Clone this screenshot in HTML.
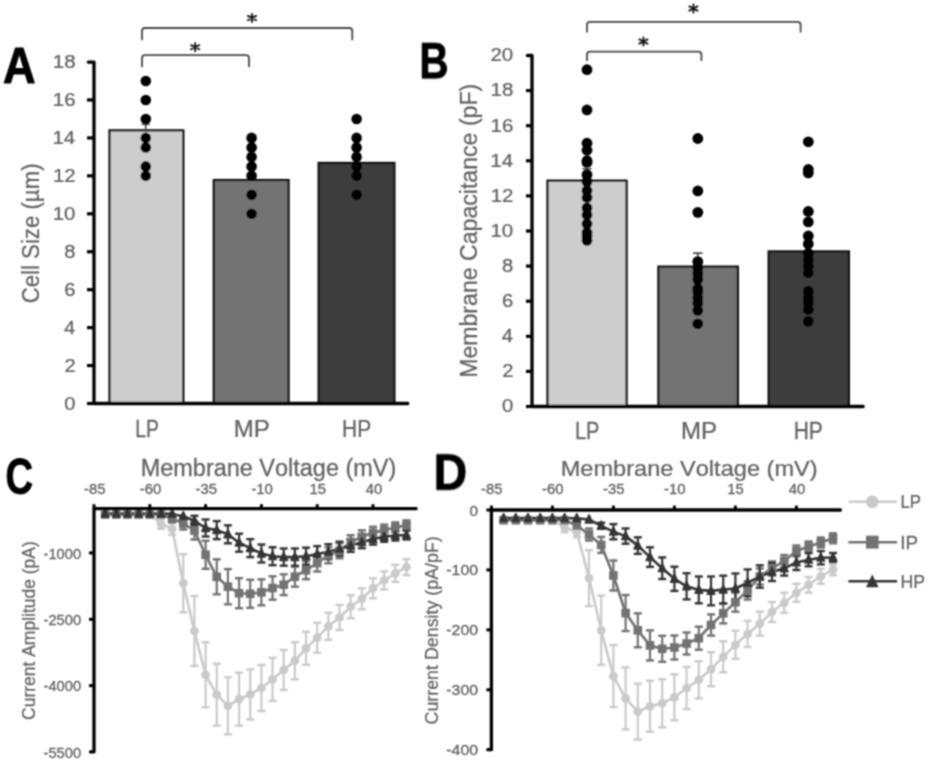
<!DOCTYPE html>
<html><head><meta charset="utf-8"><style>
html,body{margin:0;padding:0;background:#fff;}
svg{display:block;will-change:transform;font-family:"Liberation Sans", sans-serif;font-kerning:none;}
</style></head><body>
<svg width="944" height="762" viewBox="0 0 944 762">
<defs><filter id="bl" x="0" y="0" width="944" height="762" filterUnits="userSpaceOnUse"><feConvolveMatrix order="3" kernelMatrix="1 2 1 2 4 2 1 2 1" divisor="16" edgeMode="duplicate"/></filter></defs>
<rect width="944" height="762" fill="#fff"/>
<g filter="url(#bl)">
<text transform="translate(2.93,83.15) scale(0.9006,1)" font-size="50.15" font-weight="bold" fill="#000" stroke="#000" stroke-width="0.90" stroke-linejoin="round">A</text>
<text transform="translate(419.35,78.15) scale(0.8114,1)" font-size="49.71" font-weight="bold" fill="#000" stroke="#000" stroke-width="0.90" stroke-linejoin="round">B</text>
<text transform="translate(5.48,493.85) scale(0.7562,1)" font-size="50.56" font-weight="bold" fill="#000" stroke="#000" stroke-width="0.90" stroke-linejoin="round">C</text>
<text transform="translate(433.53,489.55) scale(0.9300,1)" font-size="50.15" font-weight="bold" fill="#000" stroke="#000" stroke-width="0.90" stroke-linejoin="round">D</text>
<rect x="109.50" y="130.33" width="73.80" height="273.17" fill="#cdcdcd" stroke="#111" stroke-width="2.2"/>
<rect x="213.80" y="180.03" width="74.80" height="223.47" fill="#737373" stroke="#111" stroke-width="2.2"/>
<rect x="318.60" y="162.96" width="75.80" height="240.54" fill="#3c3c3c" stroke="#111" stroke-width="2.2"/>
<line x1="145.70" y1="130.33" x2="145.70" y2="124.30" stroke="#404040" stroke-width="1.6" stroke-linecap="butt"/>
<line x1="141.70" y1="124.30" x2="149.70" y2="124.30" stroke="#404040" stroke-width="1.6" stroke-linecap="butt"/>
<circle cx="145.80" cy="81.01" r="5.3" fill="#000"/>
<circle cx="145.80" cy="99.98" r="5.3" fill="#000"/>
<circle cx="145.80" cy="118.95" r="5.3" fill="#000"/>
<circle cx="145.80" cy="137.92" r="5.3" fill="#000"/>
<circle cx="145.80" cy="147.41" r="5.3" fill="#000"/>
<circle cx="145.80" cy="166.38" r="5.3" fill="#000"/>
<circle cx="145.80" cy="175.86" r="5.3" fill="#000"/>
<circle cx="251.60" cy="137.92" r="5.3" fill="#000"/>
<circle cx="251.60" cy="147.41" r="5.3" fill="#000"/>
<circle cx="251.60" cy="156.89" r="5.3" fill="#000"/>
<circle cx="251.60" cy="166.38" r="5.3" fill="#000"/>
<circle cx="251.60" cy="175.86" r="5.3" fill="#000"/>
<circle cx="251.60" cy="194.83" r="5.3" fill="#000"/>
<circle cx="251.60" cy="213.80" r="5.3" fill="#000"/>
<circle cx="356.60" cy="118.95" r="5.3" fill="#000"/>
<circle cx="356.60" cy="137.92" r="5.3" fill="#000"/>
<circle cx="356.60" cy="147.41" r="5.3" fill="#000"/>
<circle cx="356.60" cy="156.89" r="5.3" fill="#000"/>
<circle cx="356.60" cy="166.38" r="5.3" fill="#000"/>
<circle cx="356.60" cy="175.86" r="5.3" fill="#000"/>
<circle cx="356.60" cy="194.83" r="5.3" fill="#000"/>
<path d="M88.3,62.04 H94 V403.50 H407.8" fill="none" stroke="#000" stroke-width="3.3" stroke-linejoin="round" stroke-linecap="round"/>
<line x1="87.00" y1="403.50" x2="94.00" y2="403.50" stroke="#000" stroke-width="3.2" stroke-linecap="butt"/>
<line x1="87.00" y1="365.56" x2="94.00" y2="365.56" stroke="#000" stroke-width="3.2" stroke-linecap="butt"/>
<line x1="87.00" y1="327.62" x2="94.00" y2="327.62" stroke="#000" stroke-width="3.2" stroke-linecap="butt"/>
<line x1="87.00" y1="289.68" x2="94.00" y2="289.68" stroke="#000" stroke-width="3.2" stroke-linecap="butt"/>
<line x1="87.00" y1="251.74" x2="94.00" y2="251.74" stroke="#000" stroke-width="3.2" stroke-linecap="butt"/>
<line x1="87.00" y1="213.80" x2="94.00" y2="213.80" stroke="#000" stroke-width="3.2" stroke-linecap="butt"/>
<line x1="87.00" y1="175.86" x2="94.00" y2="175.86" stroke="#000" stroke-width="3.2" stroke-linecap="butt"/>
<line x1="87.00" y1="137.92" x2="94.00" y2="137.92" stroke="#000" stroke-width="3.2" stroke-linecap="butt"/>
<line x1="87.00" y1="99.98" x2="94.00" y2="99.98" stroke="#000" stroke-width="3.2" stroke-linecap="butt"/>
<text transform="translate(64.21,409.82) scale(1.0832,1)" font-size="18.68" font-weight="normal" fill="#626262" stroke="#626262" stroke-width="0.25" stroke-linejoin="round">0</text>
<text transform="translate(64.45,371.88) scale(1.0818,1)" font-size="18.68" font-weight="normal" fill="#626262" stroke="#626262" stroke-width="0.25" stroke-linejoin="round">2</text>
<text transform="translate(64.00,333.94) scale(1.0846,1)" font-size="18.68" font-weight="normal" fill="#626262" stroke="#626262" stroke-width="0.25" stroke-linejoin="round">4</text>
<text transform="translate(64.32,296.00) scale(1.0822,1)" font-size="18.68" font-weight="normal" fill="#626262" stroke="#626262" stroke-width="0.25" stroke-linejoin="round">6</text>
<text transform="translate(64.31,258.06) scale(1.0827,1)" font-size="18.68" font-weight="normal" fill="#626262" stroke="#626262" stroke-width="0.25" stroke-linejoin="round">8</text>
<text transform="translate(52.67,220.13) scale(1.0978,1)" font-size="18.68" font-weight="normal" fill="#626262" stroke="#626262" stroke-width="0.25" stroke-linejoin="round">10</text>
<text transform="translate(52.90,182.19) scale(1.0976,1)" font-size="18.68" font-weight="normal" fill="#626262" stroke="#626262" stroke-width="0.25" stroke-linejoin="round">12</text>
<text transform="translate(52.47,144.25) scale(1.0979,1)" font-size="18.68" font-weight="normal" fill="#626262" stroke="#626262" stroke-width="0.25" stroke-linejoin="round">14</text>
<text transform="translate(52.77,106.31) scale(1.0977,1)" font-size="18.68" font-weight="normal" fill="#626262" stroke="#626262" stroke-width="0.25" stroke-linejoin="round">16</text>
<text transform="translate(52.76,68.37) scale(1.0977,1)" font-size="18.68" font-weight="normal" fill="#626262" stroke="#626262" stroke-width="0.25" stroke-linejoin="round">18</text>
<text transform="translate(135.19,436.77) scale(0.8290,1)" font-size="23.33" font-weight="normal" fill="#626262" stroke="#626262" stroke-width="0.25" stroke-linejoin="round">LP</text>
<text transform="translate(233.70,436.77) scale(1.0314,1)" font-size="23.33" font-weight="normal" fill="#626262" stroke="#626262" stroke-width="0.25" stroke-linejoin="round">MP</text>
<text transform="translate(342.06,436.77) scale(0.8970,1)" font-size="23.33" font-weight="normal" fill="#626262" stroke="#626262" stroke-width="0.25" stroke-linejoin="round">HP</text>
<text transform="translate(38.67,303.30) rotate(-90) scale(0.9175,1)" font-size="24.20" fill="#626262" stroke="#626262" stroke-width="0.25" stroke-linejoin="round">Cell Size (µm)</text>
<path d="M142,39.4 V31 Q142,28 145,28 H349.3 Q352.3,28 352.3,31 V39.4" fill="none" stroke="#484848" stroke-width="1.8" stroke-linecap="round"/>
<path d="M142,66.4 V58.2 Q142,55.2 145,55.2 H246 Q249,55.2 249,58.2 V66.4" fill="none" stroke="#484848" stroke-width="1.8" stroke-linecap="round"/>
<path d="M252,13.9 V22.1 M247.9,15.9 L256.1,20.1 M247.9,20.1 L256.1,15.9" stroke="#111" stroke-width="1.8" stroke-linecap="round" fill="none"/>
<path d="M195.2,43.1 V51.300000000000004 M191.1,45.1 L199.29999999999998,49.300000000000004 M191.1,49.300000000000004 L199.29999999999998,45.1" stroke="#111" stroke-width="1.8" stroke-linecap="round" fill="none"/>
<rect x="547.50" y="180.70" width="79.10" height="225.80" fill="#cdcdcd" stroke="#111" stroke-width="2.2"/>
<rect x="658.40" y="266.60" width="79.50" height="139.90" fill="#737373" stroke="#111" stroke-width="2.2"/>
<rect x="768.70" y="251.40" width="80.20" height="155.10" fill="#3c3c3c" stroke="#111" stroke-width="2.2"/>
<line x1="587.00" y1="180.70" x2="587.00" y2="168.80" stroke="#404040" stroke-width="1.6" stroke-linecap="butt"/>
<line x1="582.50" y1="168.80" x2="591.50" y2="168.80" stroke="#404040" stroke-width="1.6" stroke-linecap="butt"/>
<line x1="697.80" y1="266.60" x2="697.80" y2="253.10" stroke="#404040" stroke-width="1.6" stroke-linecap="butt"/>
<line x1="693.00" y1="253.10" x2="702.60" y2="253.10" stroke="#404040" stroke-width="1.6" stroke-linecap="butt"/>
<line x1="808.30" y1="251.40" x2="808.30" y2="244.00" stroke="#404040" stroke-width="1.6" stroke-linecap="butt"/>
<line x1="803.50" y1="244.00" x2="813.00" y2="244.00" stroke="#404040" stroke-width="1.6" stroke-linecap="butt"/>
<circle cx="587.00" cy="69.70" r="5.4" fill="#000"/>
<circle cx="587.00" cy="109.95" r="5.4" fill="#000"/>
<circle cx="587.00" cy="143.20" r="5.4" fill="#000"/>
<circle cx="587.00" cy="150.20" r="5.4" fill="#000"/>
<circle cx="587.00" cy="160.70" r="5.4" fill="#000"/>
<circle cx="587.00" cy="162.45" r="5.4" fill="#000"/>
<circle cx="587.00" cy="174.70" r="5.4" fill="#000"/>
<circle cx="587.00" cy="181.70" r="5.4" fill="#000"/>
<circle cx="587.00" cy="190.45" r="5.4" fill="#000"/>
<circle cx="587.00" cy="197.45" r="5.4" fill="#000"/>
<circle cx="587.00" cy="207.95" r="5.4" fill="#000"/>
<circle cx="587.00" cy="214.95" r="5.4" fill="#000"/>
<circle cx="587.00" cy="223.70" r="5.4" fill="#000"/>
<circle cx="587.00" cy="232.45" r="5.4" fill="#000"/>
<circle cx="587.00" cy="235.95" r="5.4" fill="#000"/>
<circle cx="587.00" cy="240.32" r="5.4" fill="#000"/>
<circle cx="697.80" cy="138.48" r="5.4" fill="#000"/>
<circle cx="697.80" cy="190.97" r="5.4" fill="#000"/>
<circle cx="697.80" cy="212.32" r="5.4" fill="#000"/>
<circle cx="697.80" cy="261.67" r="5.4" fill="#000"/>
<circle cx="697.80" cy="268.15" r="5.4" fill="#000"/>
<circle cx="697.80" cy="273.57" r="5.4" fill="#000"/>
<circle cx="697.80" cy="279.35" r="5.4" fill="#000"/>
<circle cx="697.80" cy="288.62" r="5.4" fill="#000"/>
<circle cx="697.80" cy="291.95" r="5.4" fill="#000"/>
<circle cx="697.80" cy="297.73" r="5.4" fill="#000"/>
<circle cx="697.80" cy="302.97" r="5.4" fill="#000"/>
<circle cx="697.80" cy="310.32" r="5.4" fill="#000"/>
<circle cx="697.80" cy="323.80" r="5.4" fill="#000"/>
<circle cx="808.30" cy="141.80" r="5.4" fill="#000"/>
<circle cx="808.30" cy="169.45" r="5.4" fill="#000"/>
<circle cx="808.30" cy="172.95" r="5.4" fill="#000"/>
<circle cx="808.30" cy="211.45" r="5.4" fill="#000"/>
<circle cx="808.30" cy="221.95" r="5.4" fill="#000"/>
<circle cx="808.30" cy="235.95" r="5.4" fill="#000"/>
<circle cx="808.30" cy="244.00" r="5.4" fill="#000"/>
<circle cx="808.30" cy="253.45" r="5.4" fill="#000"/>
<circle cx="808.30" cy="259.75" r="5.4" fill="#000"/>
<circle cx="808.30" cy="266.23" r="5.4" fill="#000"/>
<circle cx="808.30" cy="272.70" r="5.4" fill="#000"/>
<circle cx="808.30" cy="291.25" r="5.4" fill="#000"/>
<circle cx="808.30" cy="297.73" r="5.4" fill="#000"/>
<circle cx="808.30" cy="302.97" r="5.4" fill="#000"/>
<circle cx="808.30" cy="309.45" r="5.4" fill="#000"/>
<circle cx="808.30" cy="321.35" r="5.4" fill="#000"/>
<path d="M527.4,55.50 H532 V406.50 H863.2" fill="none" stroke="#000" stroke-width="3.3" stroke-linejoin="round" stroke-linecap="round"/>
<line x1="526.00" y1="406.50" x2="532.00" y2="406.50" stroke="#000" stroke-width="3.2" stroke-linecap="butt"/>
<line x1="526.00" y1="371.40" x2="532.00" y2="371.40" stroke="#000" stroke-width="3.2" stroke-linecap="butt"/>
<line x1="526.00" y1="336.30" x2="532.00" y2="336.30" stroke="#000" stroke-width="3.2" stroke-linecap="butt"/>
<line x1="526.00" y1="301.20" x2="532.00" y2="301.20" stroke="#000" stroke-width="3.2" stroke-linecap="butt"/>
<line x1="526.00" y1="266.10" x2="532.00" y2="266.10" stroke="#000" stroke-width="3.2" stroke-linecap="butt"/>
<line x1="526.00" y1="231.00" x2="532.00" y2="231.00" stroke="#000" stroke-width="3.2" stroke-linecap="butt"/>
<line x1="526.00" y1="195.90" x2="532.00" y2="195.90" stroke="#000" stroke-width="3.2" stroke-linecap="butt"/>
<line x1="526.00" y1="160.80" x2="532.00" y2="160.80" stroke="#000" stroke-width="3.2" stroke-linecap="butt"/>
<line x1="526.00" y1="125.70" x2="532.00" y2="125.70" stroke="#000" stroke-width="3.2" stroke-linecap="butt"/>
<line x1="526.00" y1="90.60" x2="532.00" y2="90.60" stroke="#000" stroke-width="3.2" stroke-linecap="butt"/>
<text transform="translate(502.01,412.32) scale(1.0832,1)" font-size="18.68" font-weight="normal" fill="#626262" stroke="#626262" stroke-width="0.25" stroke-linejoin="round">0</text>
<text transform="translate(502.25,377.22) scale(1.0818,1)" font-size="18.68" font-weight="normal" fill="#626262" stroke="#626262" stroke-width="0.25" stroke-linejoin="round">2</text>
<text transform="translate(501.80,342.12) scale(1.0846,1)" font-size="18.68" font-weight="normal" fill="#626262" stroke="#626262" stroke-width="0.25" stroke-linejoin="round">4</text>
<text transform="translate(502.12,307.02) scale(1.0822,1)" font-size="18.68" font-weight="normal" fill="#626262" stroke="#626262" stroke-width="0.25" stroke-linejoin="round">6</text>
<text transform="translate(502.11,271.93) scale(1.0827,1)" font-size="18.68" font-weight="normal" fill="#626262" stroke="#626262" stroke-width="0.25" stroke-linejoin="round">8</text>
<text transform="translate(490.47,236.83) scale(1.0978,1)" font-size="18.68" font-weight="normal" fill="#626262" stroke="#626262" stroke-width="0.25" stroke-linejoin="round">10</text>
<text transform="translate(490.70,201.72) scale(1.0976,1)" font-size="18.68" font-weight="normal" fill="#626262" stroke="#626262" stroke-width="0.25" stroke-linejoin="round">12</text>
<text transform="translate(490.27,166.62) scale(1.0979,1)" font-size="18.68" font-weight="normal" fill="#626262" stroke="#626262" stroke-width="0.25" stroke-linejoin="round">14</text>
<text transform="translate(490.57,131.53) scale(1.0977,1)" font-size="18.68" font-weight="normal" fill="#626262" stroke="#626262" stroke-width="0.25" stroke-linejoin="round">16</text>
<text transform="translate(490.56,96.42) scale(1.0977,1)" font-size="18.68" font-weight="normal" fill="#626262" stroke="#626262" stroke-width="0.25" stroke-linejoin="round">18</text>
<text transform="translate(490.46,61.32) scale(1.0981,1)" font-size="18.68" font-weight="normal" fill="#626262" stroke="#626262" stroke-width="0.25" stroke-linejoin="round">20</text>
<text transform="translate(574.89,439.27) scale(0.8513,1)" font-size="23.47" font-weight="normal" fill="#626262" stroke="#626262" stroke-width="0.25" stroke-linejoin="round">LP</text>
<text transform="translate(680.90,439.27) scale(1.0250,1)" font-size="23.47" font-weight="normal" fill="#626262" stroke="#626262" stroke-width="0.25" stroke-linejoin="round">MP</text>
<text transform="translate(793.76,439.27) scale(0.8915,1)" font-size="23.47" font-weight="normal" fill="#626262" stroke="#626262" stroke-width="0.25" stroke-linejoin="round">HP</text>
<text transform="translate(477.27,377.87) rotate(-90) scale(0.9853,1)" font-size="23.47" fill="#626262" stroke="#626262" stroke-width="0.25" stroke-linejoin="round">Membrane Capacitance (pF)</text>
<path d="M587,31.8 V24.8 Q587,21.8 590,21.8 H797.6 Q800.6,21.8 800.6,24.8 V31.8" fill="none" stroke="#484848" stroke-width="1.8" stroke-linecap="round"/>
<path d="M587,60.2 V54.7 Q587,51.7 590,51.7 H698.4 Q701.4,51.7 701.4,54.7 V60.2" fill="none" stroke="#484848" stroke-width="1.8" stroke-linecap="round"/>
<path d="M693.4,4.4 V12.6 M689.3,6.4 L697.5,10.6 M689.3,10.6 L697.5,6.4" stroke="#111" stroke-width="1.8" stroke-linecap="round" fill="none"/>
<path d="M643.4,37.4 V45.6 M639.3,39.4 L647.5,43.6 M639.3,43.6 L647.5,39.4" stroke="#111" stroke-width="1.8" stroke-linecap="round" fill="none"/>
<line x1="160.96" y1="518.80" x2="160.96" y2="528.80" stroke="#cacaca" stroke-width="2.2" stroke-linecap="butt"/>
<line x1="156.96" y1="518.80" x2="164.96" y2="518.80" stroke="#cacaca" stroke-width="2.4" stroke-linecap="butt"/>
<line x1="156.96" y1="528.80" x2="164.96" y2="528.80" stroke="#cacaca" stroke-width="2.4" stroke-linecap="butt"/>
<line x1="172.12" y1="522.90" x2="172.12" y2="534.90" stroke="#cacaca" stroke-width="2.2" stroke-linecap="butt"/>
<line x1="168.12" y1="522.90" x2="176.12" y2="522.90" stroke="#cacaca" stroke-width="2.4" stroke-linecap="butt"/>
<line x1="168.12" y1="534.90" x2="176.12" y2="534.90" stroke="#cacaca" stroke-width="2.4" stroke-linecap="butt"/>
<line x1="183.28" y1="554.20" x2="183.28" y2="612.20" stroke="#cacaca" stroke-width="2.2" stroke-linecap="butt"/>
<line x1="179.28" y1="554.20" x2="187.28" y2="554.20" stroke="#cacaca" stroke-width="2.4" stroke-linecap="butt"/>
<line x1="179.28" y1="612.20" x2="187.28" y2="612.20" stroke="#cacaca" stroke-width="2.4" stroke-linecap="butt"/>
<line x1="194.44" y1="596.00" x2="194.44" y2="666.00" stroke="#cacaca" stroke-width="2.2" stroke-linecap="butt"/>
<line x1="190.44" y1="596.00" x2="198.44" y2="596.00" stroke="#cacaca" stroke-width="2.4" stroke-linecap="butt"/>
<line x1="190.44" y1="666.00" x2="198.44" y2="666.00" stroke="#cacaca" stroke-width="2.4" stroke-linecap="butt"/>
<line x1="205.60" y1="642.30" x2="205.60" y2="707.30" stroke="#cacaca" stroke-width="2.2" stroke-linecap="butt"/>
<line x1="201.60" y1="642.30" x2="209.60" y2="642.30" stroke="#cacaca" stroke-width="2.4" stroke-linecap="butt"/>
<line x1="201.60" y1="707.30" x2="209.60" y2="707.30" stroke="#cacaca" stroke-width="2.4" stroke-linecap="butt"/>
<line x1="216.76" y1="663.70" x2="216.76" y2="725.70" stroke="#cacaca" stroke-width="2.2" stroke-linecap="butt"/>
<line x1="212.76" y1="663.70" x2="220.76" y2="663.70" stroke="#cacaca" stroke-width="2.4" stroke-linecap="butt"/>
<line x1="212.76" y1="725.70" x2="220.76" y2="725.70" stroke="#cacaca" stroke-width="2.4" stroke-linecap="butt"/>
<line x1="227.92" y1="677.30" x2="227.92" y2="734.30" stroke="#cacaca" stroke-width="2.2" stroke-linecap="butt"/>
<line x1="223.92" y1="677.30" x2="231.92" y2="677.30" stroke="#cacaca" stroke-width="2.4" stroke-linecap="butt"/>
<line x1="223.92" y1="734.30" x2="231.92" y2="734.30" stroke="#cacaca" stroke-width="2.4" stroke-linecap="butt"/>
<line x1="239.08" y1="672.70" x2="239.08" y2="725.70" stroke="#cacaca" stroke-width="2.2" stroke-linecap="butt"/>
<line x1="235.08" y1="672.70" x2="243.08" y2="672.70" stroke="#cacaca" stroke-width="2.4" stroke-linecap="butt"/>
<line x1="235.08" y1="725.70" x2="243.08" y2="725.70" stroke="#cacaca" stroke-width="2.4" stroke-linecap="butt"/>
<line x1="250.24" y1="669.40" x2="250.24" y2="719.40" stroke="#cacaca" stroke-width="2.2" stroke-linecap="butt"/>
<line x1="246.24" y1="669.40" x2="254.24" y2="669.40" stroke="#cacaca" stroke-width="2.4" stroke-linecap="butt"/>
<line x1="246.24" y1="719.40" x2="254.24" y2="719.40" stroke="#cacaca" stroke-width="2.4" stroke-linecap="butt"/>
<line x1="261.40" y1="665.00" x2="261.40" y2="711.00" stroke="#cacaca" stroke-width="2.2" stroke-linecap="butt"/>
<line x1="257.40" y1="665.00" x2="265.40" y2="665.00" stroke="#cacaca" stroke-width="2.4" stroke-linecap="butt"/>
<line x1="257.40" y1="711.00" x2="265.40" y2="711.00" stroke="#cacaca" stroke-width="2.4" stroke-linecap="butt"/>
<line x1="272.56" y1="657.80" x2="272.56" y2="700.80" stroke="#cacaca" stroke-width="2.2" stroke-linecap="butt"/>
<line x1="268.56" y1="657.80" x2="276.56" y2="657.80" stroke="#cacaca" stroke-width="2.4" stroke-linecap="butt"/>
<line x1="268.56" y1="700.80" x2="276.56" y2="700.80" stroke="#cacaca" stroke-width="2.4" stroke-linecap="butt"/>
<line x1="283.72" y1="650.00" x2="283.72" y2="690.00" stroke="#cacaca" stroke-width="2.2" stroke-linecap="butt"/>
<line x1="279.72" y1="650.00" x2="287.72" y2="650.00" stroke="#cacaca" stroke-width="2.4" stroke-linecap="butt"/>
<line x1="279.72" y1="690.00" x2="287.72" y2="690.00" stroke="#cacaca" stroke-width="2.4" stroke-linecap="butt"/>
<line x1="294.88" y1="642.10" x2="294.88" y2="679.30" stroke="#cacaca" stroke-width="2.2" stroke-linecap="butt"/>
<line x1="290.88" y1="642.10" x2="298.88" y2="642.10" stroke="#cacaca" stroke-width="2.4" stroke-linecap="butt"/>
<line x1="290.88" y1="679.30" x2="298.88" y2="679.30" stroke="#cacaca" stroke-width="2.4" stroke-linecap="butt"/>
<line x1="306.04" y1="631.80" x2="306.04" y2="664.80" stroke="#cacaca" stroke-width="2.2" stroke-linecap="butt"/>
<line x1="302.04" y1="631.80" x2="310.04" y2="631.80" stroke="#cacaca" stroke-width="2.4" stroke-linecap="butt"/>
<line x1="302.04" y1="664.80" x2="310.04" y2="664.80" stroke="#cacaca" stroke-width="2.4" stroke-linecap="butt"/>
<line x1="317.20" y1="622.70" x2="317.20" y2="652.70" stroke="#cacaca" stroke-width="2.2" stroke-linecap="butt"/>
<line x1="313.20" y1="622.70" x2="321.20" y2="622.70" stroke="#cacaca" stroke-width="2.4" stroke-linecap="butt"/>
<line x1="313.20" y1="652.70" x2="321.20" y2="652.70" stroke="#cacaca" stroke-width="2.4" stroke-linecap="butt"/>
<line x1="328.36" y1="612.80" x2="328.36" y2="639.80" stroke="#cacaca" stroke-width="2.2" stroke-linecap="butt"/>
<line x1="324.36" y1="612.80" x2="332.36" y2="612.80" stroke="#cacaca" stroke-width="2.4" stroke-linecap="butt"/>
<line x1="324.36" y1="639.80" x2="332.36" y2="639.80" stroke="#cacaca" stroke-width="2.4" stroke-linecap="butt"/>
<line x1="339.52" y1="605.00" x2="339.52" y2="630.00" stroke="#cacaca" stroke-width="2.2" stroke-linecap="butt"/>
<line x1="335.52" y1="605.00" x2="343.52" y2="605.00" stroke="#cacaca" stroke-width="2.4" stroke-linecap="butt"/>
<line x1="335.52" y1="630.00" x2="343.52" y2="630.00" stroke="#cacaca" stroke-width="2.4" stroke-linecap="butt"/>
<line x1="350.68" y1="595.20" x2="350.68" y2="618.20" stroke="#cacaca" stroke-width="2.2" stroke-linecap="butt"/>
<line x1="346.68" y1="595.20" x2="354.68" y2="595.20" stroke="#cacaca" stroke-width="2.4" stroke-linecap="butt"/>
<line x1="346.68" y1="618.20" x2="354.68" y2="618.20" stroke="#cacaca" stroke-width="2.4" stroke-linecap="butt"/>
<line x1="361.84" y1="588.30" x2="361.84" y2="609.30" stroke="#cacaca" stroke-width="2.2" stroke-linecap="butt"/>
<line x1="357.84" y1="588.30" x2="365.84" y2="588.30" stroke="#cacaca" stroke-width="2.4" stroke-linecap="butt"/>
<line x1="357.84" y1="609.30" x2="365.84" y2="609.30" stroke="#cacaca" stroke-width="2.4" stroke-linecap="butt"/>
<line x1="373.00" y1="578.30" x2="373.00" y2="598.30" stroke="#cacaca" stroke-width="2.2" stroke-linecap="butt"/>
<line x1="369.00" y1="578.30" x2="377.00" y2="578.30" stroke="#cacaca" stroke-width="2.4" stroke-linecap="butt"/>
<line x1="369.00" y1="598.30" x2="377.00" y2="598.30" stroke="#cacaca" stroke-width="2.4" stroke-linecap="butt"/>
<line x1="384.16" y1="571.50" x2="384.16" y2="589.50" stroke="#cacaca" stroke-width="2.2" stroke-linecap="butt"/>
<line x1="380.16" y1="571.50" x2="388.16" y2="571.50" stroke="#cacaca" stroke-width="2.4" stroke-linecap="butt"/>
<line x1="380.16" y1="589.50" x2="388.16" y2="589.50" stroke="#cacaca" stroke-width="2.4" stroke-linecap="butt"/>
<line x1="395.32" y1="564.80" x2="395.32" y2="581.80" stroke="#cacaca" stroke-width="2.2" stroke-linecap="butt"/>
<line x1="391.32" y1="564.80" x2="399.32" y2="564.80" stroke="#cacaca" stroke-width="2.4" stroke-linecap="butt"/>
<line x1="391.32" y1="581.80" x2="399.32" y2="581.80" stroke="#cacaca" stroke-width="2.4" stroke-linecap="butt"/>
<line x1="406.48" y1="559.00" x2="406.48" y2="575.00" stroke="#cacaca" stroke-width="2.2" stroke-linecap="butt"/>
<line x1="402.48" y1="559.00" x2="410.48" y2="559.00" stroke="#cacaca" stroke-width="2.4" stroke-linecap="butt"/>
<line x1="402.48" y1="575.00" x2="410.48" y2="575.00" stroke="#cacaca" stroke-width="2.4" stroke-linecap="butt"/>
<line x1="172.12" y1="514.40" x2="172.12" y2="522.40" stroke="#727272" stroke-width="2.2" stroke-linecap="butt"/>
<line x1="168.12" y1="514.40" x2="176.12" y2="514.40" stroke="#727272" stroke-width="2.4" stroke-linecap="butt"/>
<line x1="168.12" y1="522.40" x2="176.12" y2="522.40" stroke="#727272" stroke-width="2.4" stroke-linecap="butt"/>
<line x1="183.28" y1="517.50" x2="183.28" y2="529.50" stroke="#727272" stroke-width="2.2" stroke-linecap="butt"/>
<line x1="179.28" y1="517.50" x2="187.28" y2="517.50" stroke="#727272" stroke-width="2.4" stroke-linecap="butt"/>
<line x1="179.28" y1="529.50" x2="187.28" y2="529.50" stroke="#727272" stroke-width="2.4" stroke-linecap="butt"/>
<line x1="194.44" y1="521.50" x2="194.44" y2="539.50" stroke="#727272" stroke-width="2.2" stroke-linecap="butt"/>
<line x1="190.44" y1="521.50" x2="198.44" y2="521.50" stroke="#727272" stroke-width="2.4" stroke-linecap="butt"/>
<line x1="190.44" y1="539.50" x2="198.44" y2="539.50" stroke="#727272" stroke-width="2.4" stroke-linecap="butt"/>
<line x1="205.60" y1="540.80" x2="205.60" y2="568.80" stroke="#727272" stroke-width="2.2" stroke-linecap="butt"/>
<line x1="201.60" y1="540.80" x2="209.60" y2="540.80" stroke="#727272" stroke-width="2.4" stroke-linecap="butt"/>
<line x1="201.60" y1="568.80" x2="209.60" y2="568.80" stroke="#727272" stroke-width="2.4" stroke-linecap="butt"/>
<line x1="216.76" y1="559.30" x2="216.76" y2="594.30" stroke="#727272" stroke-width="2.2" stroke-linecap="butt"/>
<line x1="212.76" y1="559.30" x2="220.76" y2="559.30" stroke="#727272" stroke-width="2.4" stroke-linecap="butt"/>
<line x1="212.76" y1="594.30" x2="220.76" y2="594.30" stroke="#727272" stroke-width="2.4" stroke-linecap="butt"/>
<line x1="227.92" y1="569.10" x2="227.92" y2="604.30" stroke="#727272" stroke-width="2.2" stroke-linecap="butt"/>
<line x1="223.92" y1="569.10" x2="231.92" y2="569.10" stroke="#727272" stroke-width="2.4" stroke-linecap="butt"/>
<line x1="223.92" y1="604.30" x2="231.92" y2="604.30" stroke="#727272" stroke-width="2.4" stroke-linecap="butt"/>
<line x1="239.08" y1="578.20" x2="239.08" y2="608.20" stroke="#727272" stroke-width="2.2" stroke-linecap="butt"/>
<line x1="235.08" y1="578.20" x2="243.08" y2="578.20" stroke="#727272" stroke-width="2.4" stroke-linecap="butt"/>
<line x1="235.08" y1="608.20" x2="243.08" y2="608.20" stroke="#727272" stroke-width="2.4" stroke-linecap="butt"/>
<line x1="250.24" y1="579.80" x2="250.24" y2="607.80" stroke="#727272" stroke-width="2.2" stroke-linecap="butt"/>
<line x1="246.24" y1="579.80" x2="254.24" y2="579.80" stroke="#727272" stroke-width="2.4" stroke-linecap="butt"/>
<line x1="246.24" y1="607.80" x2="254.24" y2="607.80" stroke="#727272" stroke-width="2.4" stroke-linecap="butt"/>
<line x1="261.40" y1="579.30" x2="261.40" y2="605.30" stroke="#727272" stroke-width="2.2" stroke-linecap="butt"/>
<line x1="257.40" y1="579.30" x2="265.40" y2="579.30" stroke="#727272" stroke-width="2.4" stroke-linecap="butt"/>
<line x1="257.40" y1="605.30" x2="265.40" y2="605.30" stroke="#727272" stroke-width="2.4" stroke-linecap="butt"/>
<line x1="272.56" y1="576.30" x2="272.56" y2="599.70" stroke="#727272" stroke-width="2.2" stroke-linecap="butt"/>
<line x1="268.56" y1="576.30" x2="276.56" y2="576.30" stroke="#727272" stroke-width="2.4" stroke-linecap="butt"/>
<line x1="268.56" y1="599.70" x2="276.56" y2="599.70" stroke="#727272" stroke-width="2.4" stroke-linecap="butt"/>
<line x1="283.72" y1="574.30" x2="283.72" y2="595.10" stroke="#727272" stroke-width="2.2" stroke-linecap="butt"/>
<line x1="279.72" y1="574.30" x2="287.72" y2="574.30" stroke="#727272" stroke-width="2.4" stroke-linecap="butt"/>
<line x1="279.72" y1="595.10" x2="287.72" y2="595.10" stroke="#727272" stroke-width="2.4" stroke-linecap="butt"/>
<line x1="294.88" y1="566.70" x2="294.88" y2="586.70" stroke="#727272" stroke-width="2.2" stroke-linecap="butt"/>
<line x1="290.88" y1="566.70" x2="298.88" y2="566.70" stroke="#727272" stroke-width="2.4" stroke-linecap="butt"/>
<line x1="290.88" y1="586.70" x2="298.88" y2="586.70" stroke="#727272" stroke-width="2.4" stroke-linecap="butt"/>
<line x1="306.04" y1="561.20" x2="306.04" y2="579.20" stroke="#727272" stroke-width="2.2" stroke-linecap="butt"/>
<line x1="302.04" y1="561.20" x2="310.04" y2="561.20" stroke="#727272" stroke-width="2.4" stroke-linecap="butt"/>
<line x1="302.04" y1="579.20" x2="310.04" y2="579.20" stroke="#727272" stroke-width="2.4" stroke-linecap="butt"/>
<line x1="317.20" y1="554.50" x2="317.20" y2="571.50" stroke="#727272" stroke-width="2.2" stroke-linecap="butt"/>
<line x1="313.20" y1="554.50" x2="321.20" y2="554.50" stroke="#727272" stroke-width="2.4" stroke-linecap="butt"/>
<line x1="313.20" y1="571.50" x2="321.20" y2="571.50" stroke="#727272" stroke-width="2.4" stroke-linecap="butt"/>
<line x1="328.36" y1="547.30" x2="328.36" y2="563.30" stroke="#727272" stroke-width="2.2" stroke-linecap="butt"/>
<line x1="324.36" y1="547.30" x2="332.36" y2="547.30" stroke="#727272" stroke-width="2.4" stroke-linecap="butt"/>
<line x1="324.36" y1="563.30" x2="332.36" y2="563.30" stroke="#727272" stroke-width="2.4" stroke-linecap="butt"/>
<line x1="339.52" y1="543.30" x2="339.52" y2="558.30" stroke="#727272" stroke-width="2.2" stroke-linecap="butt"/>
<line x1="335.52" y1="543.30" x2="343.52" y2="543.30" stroke="#727272" stroke-width="2.4" stroke-linecap="butt"/>
<line x1="335.52" y1="558.30" x2="343.52" y2="558.30" stroke="#727272" stroke-width="2.4" stroke-linecap="butt"/>
<line x1="350.68" y1="535.20" x2="350.68" y2="549.20" stroke="#727272" stroke-width="2.2" stroke-linecap="butt"/>
<line x1="346.68" y1="535.20" x2="354.68" y2="535.20" stroke="#727272" stroke-width="2.4" stroke-linecap="butt"/>
<line x1="346.68" y1="549.20" x2="354.68" y2="549.20" stroke="#727272" stroke-width="2.4" stroke-linecap="butt"/>
<line x1="361.84" y1="530.30" x2="361.84" y2="543.30" stroke="#727272" stroke-width="2.2" stroke-linecap="butt"/>
<line x1="357.84" y1="530.30" x2="365.84" y2="530.30" stroke="#727272" stroke-width="2.4" stroke-linecap="butt"/>
<line x1="357.84" y1="543.30" x2="365.84" y2="543.30" stroke="#727272" stroke-width="2.4" stroke-linecap="butt"/>
<line x1="373.00" y1="526.80" x2="373.00" y2="538.80" stroke="#727272" stroke-width="2.2" stroke-linecap="butt"/>
<line x1="369.00" y1="526.80" x2="377.00" y2="526.80" stroke="#727272" stroke-width="2.4" stroke-linecap="butt"/>
<line x1="369.00" y1="538.80" x2="377.00" y2="538.80" stroke="#727272" stroke-width="2.4" stroke-linecap="butt"/>
<line x1="384.16" y1="524.60" x2="384.16" y2="535.60" stroke="#727272" stroke-width="2.2" stroke-linecap="butt"/>
<line x1="380.16" y1="524.60" x2="388.16" y2="524.60" stroke="#727272" stroke-width="2.4" stroke-linecap="butt"/>
<line x1="380.16" y1="535.60" x2="388.16" y2="535.60" stroke="#727272" stroke-width="2.4" stroke-linecap="butt"/>
<line x1="395.32" y1="522.40" x2="395.32" y2="532.40" stroke="#727272" stroke-width="2.2" stroke-linecap="butt"/>
<line x1="391.32" y1="522.40" x2="399.32" y2="522.40" stroke="#727272" stroke-width="2.4" stroke-linecap="butt"/>
<line x1="391.32" y1="532.40" x2="399.32" y2="532.40" stroke="#727272" stroke-width="2.4" stroke-linecap="butt"/>
<line x1="406.48" y1="520.30" x2="406.48" y2="530.30" stroke="#727272" stroke-width="2.2" stroke-linecap="butt"/>
<line x1="402.48" y1="520.30" x2="410.48" y2="520.30" stroke="#727272" stroke-width="2.4" stroke-linecap="butt"/>
<line x1="402.48" y1="530.30" x2="410.48" y2="530.30" stroke="#727272" stroke-width="2.4" stroke-linecap="butt"/>
<line x1="194.44" y1="515.80" x2="194.44" y2="525.80" stroke="#343434" stroke-width="2.2" stroke-linecap="butt"/>
<line x1="190.44" y1="515.80" x2="198.44" y2="515.80" stroke="#343434" stroke-width="2.4" stroke-linecap="butt"/>
<line x1="190.44" y1="525.80" x2="198.44" y2="525.80" stroke="#343434" stroke-width="2.4" stroke-linecap="butt"/>
<line x1="205.60" y1="519.50" x2="205.60" y2="536.50" stroke="#343434" stroke-width="2.2" stroke-linecap="butt"/>
<line x1="201.60" y1="519.50" x2="209.60" y2="519.50" stroke="#343434" stroke-width="2.4" stroke-linecap="butt"/>
<line x1="201.60" y1="536.50" x2="209.60" y2="536.50" stroke="#343434" stroke-width="2.4" stroke-linecap="butt"/>
<line x1="216.76" y1="521.10" x2="216.76" y2="539.10" stroke="#343434" stroke-width="2.2" stroke-linecap="butt"/>
<line x1="212.76" y1="521.10" x2="220.76" y2="521.10" stroke="#343434" stroke-width="2.4" stroke-linecap="butt"/>
<line x1="212.76" y1="539.10" x2="220.76" y2="539.10" stroke="#343434" stroke-width="2.4" stroke-linecap="butt"/>
<line x1="227.92" y1="525.30" x2="227.92" y2="543.30" stroke="#343434" stroke-width="2.2" stroke-linecap="butt"/>
<line x1="223.92" y1="525.30" x2="231.92" y2="525.30" stroke="#343434" stroke-width="2.4" stroke-linecap="butt"/>
<line x1="223.92" y1="543.30" x2="231.92" y2="543.30" stroke="#343434" stroke-width="2.4" stroke-linecap="butt"/>
<line x1="239.08" y1="533.70" x2="239.08" y2="551.70" stroke="#343434" stroke-width="2.2" stroke-linecap="butt"/>
<line x1="235.08" y1="533.70" x2="243.08" y2="533.70" stroke="#343434" stroke-width="2.4" stroke-linecap="butt"/>
<line x1="235.08" y1="551.70" x2="243.08" y2="551.70" stroke="#343434" stroke-width="2.4" stroke-linecap="butt"/>
<line x1="250.24" y1="539.10" x2="250.24" y2="557.10" stroke="#343434" stroke-width="2.2" stroke-linecap="butt"/>
<line x1="246.24" y1="539.10" x2="254.24" y2="539.10" stroke="#343434" stroke-width="2.4" stroke-linecap="butt"/>
<line x1="246.24" y1="557.10" x2="254.24" y2="557.10" stroke="#343434" stroke-width="2.4" stroke-linecap="butt"/>
<line x1="261.40" y1="544.50" x2="261.40" y2="562.50" stroke="#343434" stroke-width="2.2" stroke-linecap="butt"/>
<line x1="257.40" y1="544.50" x2="265.40" y2="544.50" stroke="#343434" stroke-width="2.4" stroke-linecap="butt"/>
<line x1="257.40" y1="562.50" x2="265.40" y2="562.50" stroke="#343434" stroke-width="2.4" stroke-linecap="butt"/>
<line x1="272.56" y1="547.20" x2="272.56" y2="565.20" stroke="#343434" stroke-width="2.2" stroke-linecap="butt"/>
<line x1="268.56" y1="547.20" x2="276.56" y2="547.20" stroke="#343434" stroke-width="2.4" stroke-linecap="butt"/>
<line x1="268.56" y1="565.20" x2="276.56" y2="565.20" stroke="#343434" stroke-width="2.4" stroke-linecap="butt"/>
<line x1="283.72" y1="548.50" x2="283.72" y2="565.70" stroke="#343434" stroke-width="2.2" stroke-linecap="butt"/>
<line x1="279.72" y1="548.50" x2="287.72" y2="548.50" stroke="#343434" stroke-width="2.4" stroke-linecap="butt"/>
<line x1="279.72" y1="565.70" x2="287.72" y2="565.70" stroke="#343434" stroke-width="2.4" stroke-linecap="butt"/>
<line x1="294.88" y1="548.45" x2="294.88" y2="565.75" stroke="#343434" stroke-width="2.2" stroke-linecap="butt"/>
<line x1="290.88" y1="548.45" x2="298.88" y2="548.45" stroke="#343434" stroke-width="2.4" stroke-linecap="butt"/>
<line x1="290.88" y1="565.75" x2="298.88" y2="565.75" stroke="#343434" stroke-width="2.4" stroke-linecap="butt"/>
<line x1="306.04" y1="547.70" x2="306.04" y2="564.70" stroke="#343434" stroke-width="2.2" stroke-linecap="butt"/>
<line x1="302.04" y1="547.70" x2="310.04" y2="547.70" stroke="#343434" stroke-width="2.4" stroke-linecap="butt"/>
<line x1="302.04" y1="564.70" x2="310.04" y2="564.70" stroke="#343434" stroke-width="2.4" stroke-linecap="butt"/>
<line x1="317.20" y1="546.10" x2="317.20" y2="562.10" stroke="#343434" stroke-width="2.2" stroke-linecap="butt"/>
<line x1="313.20" y1="546.10" x2="321.20" y2="546.10" stroke="#343434" stroke-width="2.4" stroke-linecap="butt"/>
<line x1="313.20" y1="562.10" x2="321.20" y2="562.10" stroke="#343434" stroke-width="2.4" stroke-linecap="butt"/>
<line x1="328.36" y1="544.20" x2="328.36" y2="559.20" stroke="#343434" stroke-width="2.2" stroke-linecap="butt"/>
<line x1="324.36" y1="544.20" x2="332.36" y2="544.20" stroke="#343434" stroke-width="2.4" stroke-linecap="butt"/>
<line x1="324.36" y1="559.20" x2="332.36" y2="559.20" stroke="#343434" stroke-width="2.4" stroke-linecap="butt"/>
<line x1="339.52" y1="541.70" x2="339.52" y2="555.70" stroke="#343434" stroke-width="2.2" stroke-linecap="butt"/>
<line x1="335.52" y1="541.70" x2="343.52" y2="541.70" stroke="#343434" stroke-width="2.4" stroke-linecap="butt"/>
<line x1="335.52" y1="555.70" x2="343.52" y2="555.70" stroke="#343434" stroke-width="2.4" stroke-linecap="butt"/>
<line x1="350.68" y1="538.90" x2="350.68" y2="551.90" stroke="#343434" stroke-width="2.2" stroke-linecap="butt"/>
<line x1="346.68" y1="538.90" x2="354.68" y2="538.90" stroke="#343434" stroke-width="2.4" stroke-linecap="butt"/>
<line x1="346.68" y1="551.90" x2="354.68" y2="551.90" stroke="#343434" stroke-width="2.4" stroke-linecap="butt"/>
<line x1="361.84" y1="536.20" x2="361.84" y2="548.20" stroke="#343434" stroke-width="2.2" stroke-linecap="butt"/>
<line x1="357.84" y1="536.20" x2="365.84" y2="536.20" stroke="#343434" stroke-width="2.4" stroke-linecap="butt"/>
<line x1="357.84" y1="548.20" x2="365.84" y2="548.20" stroke="#343434" stroke-width="2.4" stroke-linecap="butt"/>
<line x1="373.00" y1="533.60" x2="373.00" y2="544.60" stroke="#343434" stroke-width="2.2" stroke-linecap="butt"/>
<line x1="369.00" y1="533.60" x2="377.00" y2="533.60" stroke="#343434" stroke-width="2.4" stroke-linecap="butt"/>
<line x1="369.00" y1="544.60" x2="377.00" y2="544.60" stroke="#343434" stroke-width="2.4" stroke-linecap="butt"/>
<line x1="384.16" y1="531.80" x2="384.16" y2="541.80" stroke="#343434" stroke-width="2.2" stroke-linecap="butt"/>
<line x1="380.16" y1="531.80" x2="388.16" y2="531.80" stroke="#343434" stroke-width="2.4" stroke-linecap="butt"/>
<line x1="380.16" y1="541.80" x2="388.16" y2="541.80" stroke="#343434" stroke-width="2.4" stroke-linecap="butt"/>
<line x1="395.32" y1="530.50" x2="395.32" y2="540.50" stroke="#343434" stroke-width="2.2" stroke-linecap="butt"/>
<line x1="391.32" y1="530.50" x2="399.32" y2="530.50" stroke="#343434" stroke-width="2.4" stroke-linecap="butt"/>
<line x1="391.32" y1="540.50" x2="399.32" y2="540.50" stroke="#343434" stroke-width="2.4" stroke-linecap="butt"/>
<line x1="406.48" y1="530.50" x2="406.48" y2="539.50" stroke="#343434" stroke-width="2.2" stroke-linecap="butt"/>
<line x1="402.48" y1="530.50" x2="410.48" y2="530.50" stroke="#343434" stroke-width="2.4" stroke-linecap="butt"/>
<line x1="402.48" y1="539.50" x2="410.48" y2="539.50" stroke="#343434" stroke-width="2.4" stroke-linecap="butt"/>
<polyline points="105.16,514.50 116.32,514.50 127.48,514.50 138.64,514.50 149.80,514.50 160.96,523.80 172.12,528.90 183.28,583.20 194.44,631.00 205.60,674.80 216.76,694.70 227.92,705.80 239.08,699.20 250.24,694.40 261.40,688.00 272.56,679.30 283.72,670.00 294.88,660.70 306.04,648.30 317.20,637.70 328.36,626.30 339.52,617.50 350.68,606.70 361.84,598.80 373.00,588.30 384.16,580.50 395.32,573.30 406.48,567.00" fill="none" stroke="#cacaca" stroke-width="2.6" stroke-linejoin="round"/>
<polyline points="105.16,514.50 116.32,514.50 127.48,514.50 138.64,514.50 149.80,514.50 160.96,514.50 172.12,518.40 183.28,523.50 194.44,530.50 205.60,554.80 216.76,576.80 227.92,586.70 239.08,593.20 250.24,593.80 261.40,592.30 272.56,588.00 283.72,584.70 294.88,576.70 306.04,570.20 317.20,563.00 328.36,555.30 339.52,550.80 350.68,542.20 361.84,536.80 373.00,532.80 384.16,530.10 395.32,527.40 406.48,525.30" fill="none" stroke="#727272" stroke-width="2.6" stroke-linejoin="round"/>
<polyline points="105.16,513.50 116.32,513.50 127.48,513.50 138.64,513.50 149.80,513.50 160.96,513.50 172.12,513.90 183.28,516.20 194.44,520.80 205.60,528.00 216.76,530.10 227.92,534.30 239.08,542.70 250.24,548.10 261.40,553.50 272.56,556.20 283.72,557.10 294.88,557.10 306.04,556.20 317.20,554.10 328.36,551.70 339.52,548.70 350.68,545.40 361.84,542.20 373.00,539.10 384.16,536.80 395.32,535.50 406.48,535.00" fill="none" stroke="#343434" stroke-width="2.6" stroke-linejoin="round"/>
<circle cx="105.16" cy="514.50" r="4.4" fill="#cacaca"/>
<circle cx="116.32" cy="514.50" r="4.4" fill="#cacaca"/>
<circle cx="127.48" cy="514.50" r="4.4" fill="#cacaca"/>
<circle cx="138.64" cy="514.50" r="4.4" fill="#cacaca"/>
<circle cx="149.80" cy="514.50" r="4.4" fill="#cacaca"/>
<circle cx="160.96" cy="523.80" r="4.4" fill="#cacaca"/>
<circle cx="172.12" cy="528.90" r="4.4" fill="#cacaca"/>
<circle cx="183.28" cy="583.20" r="4.4" fill="#cacaca"/>
<circle cx="194.44" cy="631.00" r="4.4" fill="#cacaca"/>
<circle cx="205.60" cy="674.80" r="4.4" fill="#cacaca"/>
<circle cx="216.76" cy="694.70" r="4.4" fill="#cacaca"/>
<circle cx="227.92" cy="705.80" r="4.4" fill="#cacaca"/>
<circle cx="239.08" cy="699.20" r="4.4" fill="#cacaca"/>
<circle cx="250.24" cy="694.40" r="4.4" fill="#cacaca"/>
<circle cx="261.40" cy="688.00" r="4.4" fill="#cacaca"/>
<circle cx="272.56" cy="679.30" r="4.4" fill="#cacaca"/>
<circle cx="283.72" cy="670.00" r="4.4" fill="#cacaca"/>
<circle cx="294.88" cy="660.70" r="4.4" fill="#cacaca"/>
<circle cx="306.04" cy="648.30" r="4.4" fill="#cacaca"/>
<circle cx="317.20" cy="637.70" r="4.4" fill="#cacaca"/>
<circle cx="328.36" cy="626.30" r="4.4" fill="#cacaca"/>
<circle cx="339.52" cy="617.50" r="4.4" fill="#cacaca"/>
<circle cx="350.68" cy="606.70" r="4.4" fill="#cacaca"/>
<circle cx="361.84" cy="598.80" r="4.4" fill="#cacaca"/>
<circle cx="373.00" cy="588.30" r="4.4" fill="#cacaca"/>
<circle cx="384.16" cy="580.50" r="4.4" fill="#cacaca"/>
<circle cx="395.32" cy="573.30" r="4.4" fill="#cacaca"/>
<circle cx="406.48" cy="567.00" r="4.4" fill="#cacaca"/>
<rect x="100.86" y="510.20" width="8.6" height="8.6" fill="#727272"/>
<rect x="112.02" y="510.20" width="8.6" height="8.6" fill="#727272"/>
<rect x="123.18" y="510.20" width="8.6" height="8.6" fill="#727272"/>
<rect x="134.34" y="510.20" width="8.6" height="8.6" fill="#727272"/>
<rect x="145.50" y="510.20" width="8.6" height="8.6" fill="#727272"/>
<rect x="156.66" y="510.20" width="8.6" height="8.6" fill="#727272"/>
<rect x="167.82" y="514.10" width="8.6" height="8.6" fill="#727272"/>
<rect x="178.98" y="519.20" width="8.6" height="8.6" fill="#727272"/>
<rect x="190.14" y="526.20" width="8.6" height="8.6" fill="#727272"/>
<rect x="201.30" y="550.50" width="8.6" height="8.6" fill="#727272"/>
<rect x="212.46" y="572.50" width="8.6" height="8.6" fill="#727272"/>
<rect x="223.62" y="582.40" width="8.6" height="8.6" fill="#727272"/>
<rect x="234.78" y="588.90" width="8.6" height="8.6" fill="#727272"/>
<rect x="245.94" y="589.50" width="8.6" height="8.6" fill="#727272"/>
<rect x="257.10" y="588.00" width="8.6" height="8.6" fill="#727272"/>
<rect x="268.26" y="583.70" width="8.6" height="8.6" fill="#727272"/>
<rect x="279.42" y="580.40" width="8.6" height="8.6" fill="#727272"/>
<rect x="290.58" y="572.40" width="8.6" height="8.6" fill="#727272"/>
<rect x="301.74" y="565.90" width="8.6" height="8.6" fill="#727272"/>
<rect x="312.90" y="558.70" width="8.6" height="8.6" fill="#727272"/>
<rect x="324.06" y="551.00" width="8.6" height="8.6" fill="#727272"/>
<rect x="335.22" y="546.50" width="8.6" height="8.6" fill="#727272"/>
<rect x="346.38" y="537.90" width="8.6" height="8.6" fill="#727272"/>
<rect x="357.54" y="532.50" width="8.6" height="8.6" fill="#727272"/>
<rect x="368.70" y="528.50" width="8.6" height="8.6" fill="#727272"/>
<rect x="379.86" y="525.80" width="8.6" height="8.6" fill="#727272"/>
<rect x="391.02" y="523.10" width="8.6" height="8.6" fill="#727272"/>
<rect x="402.18" y="521.00" width="8.6" height="8.6" fill="#727272"/>
<path d="M105.16,508.91 L108.90,516.83 L101.42,516.83 Z" fill="#343434" stroke="#343434" stroke-width="1.6" stroke-linejoin="round"/>
<path d="M116.32,508.91 L120.06,516.83 L112.58,516.83 Z" fill="#343434" stroke="#343434" stroke-width="1.6" stroke-linejoin="round"/>
<path d="M127.48,508.91 L131.22,516.83 L123.74,516.83 Z" fill="#343434" stroke="#343434" stroke-width="1.6" stroke-linejoin="round"/>
<path d="M138.64,508.91 L142.38,516.83 L134.90,516.83 Z" fill="#343434" stroke="#343434" stroke-width="1.6" stroke-linejoin="round"/>
<path d="M149.80,508.91 L153.54,516.83 L146.06,516.83 Z" fill="#343434" stroke="#343434" stroke-width="1.6" stroke-linejoin="round"/>
<path d="M160.96,508.91 L164.70,516.83 L157.22,516.83 Z" fill="#343434" stroke="#343434" stroke-width="1.6" stroke-linejoin="round"/>
<path d="M172.12,509.31 L175.86,517.23 L168.38,517.23 Z" fill="#343434" stroke="#343434" stroke-width="1.6" stroke-linejoin="round"/>
<path d="M183.28,511.61 L187.02,519.53 L179.54,519.53 Z" fill="#343434" stroke="#343434" stroke-width="1.6" stroke-linejoin="round"/>
<path d="M194.44,516.21 L198.18,524.13 L190.70,524.13 Z" fill="#343434" stroke="#343434" stroke-width="1.6" stroke-linejoin="round"/>
<path d="M205.60,523.41 L209.34,531.33 L201.86,531.33 Z" fill="#343434" stroke="#343434" stroke-width="1.6" stroke-linejoin="round"/>
<path d="M216.76,525.51 L220.50,533.43 L213.02,533.43 Z" fill="#343434" stroke="#343434" stroke-width="1.6" stroke-linejoin="round"/>
<path d="M227.92,529.71 L231.66,537.63 L224.18,537.63 Z" fill="#343434" stroke="#343434" stroke-width="1.6" stroke-linejoin="round"/>
<path d="M239.08,538.11 L242.82,546.03 L235.34,546.03 Z" fill="#343434" stroke="#343434" stroke-width="1.6" stroke-linejoin="round"/>
<path d="M250.24,543.51 L253.98,551.43 L246.50,551.43 Z" fill="#343434" stroke="#343434" stroke-width="1.6" stroke-linejoin="round"/>
<path d="M261.40,548.91 L265.14,556.83 L257.66,556.83 Z" fill="#343434" stroke="#343434" stroke-width="1.6" stroke-linejoin="round"/>
<path d="M272.56,551.61 L276.30,559.53 L268.82,559.53 Z" fill="#343434" stroke="#343434" stroke-width="1.6" stroke-linejoin="round"/>
<path d="M283.72,552.51 L287.46,560.43 L279.98,560.43 Z" fill="#343434" stroke="#343434" stroke-width="1.6" stroke-linejoin="round"/>
<path d="M294.88,552.51 L298.62,560.43 L291.14,560.43 Z" fill="#343434" stroke="#343434" stroke-width="1.6" stroke-linejoin="round"/>
<path d="M306.04,551.61 L309.78,559.53 L302.30,559.53 Z" fill="#343434" stroke="#343434" stroke-width="1.6" stroke-linejoin="round"/>
<path d="M317.20,549.51 L320.94,557.43 L313.46,557.43 Z" fill="#343434" stroke="#343434" stroke-width="1.6" stroke-linejoin="round"/>
<path d="M328.36,547.11 L332.10,555.03 L324.62,555.03 Z" fill="#343434" stroke="#343434" stroke-width="1.6" stroke-linejoin="round"/>
<path d="M339.52,544.11 L343.26,552.03 L335.78,552.03 Z" fill="#343434" stroke="#343434" stroke-width="1.6" stroke-linejoin="round"/>
<path d="M350.68,540.81 L354.42,548.73 L346.94,548.73 Z" fill="#343434" stroke="#343434" stroke-width="1.6" stroke-linejoin="round"/>
<path d="M361.84,537.61 L365.58,545.53 L358.10,545.53 Z" fill="#343434" stroke="#343434" stroke-width="1.6" stroke-linejoin="round"/>
<path d="M373.00,534.51 L376.74,542.43 L369.26,542.43 Z" fill="#343434" stroke="#343434" stroke-width="1.6" stroke-linejoin="round"/>
<path d="M384.16,532.21 L387.90,540.13 L380.42,540.13 Z" fill="#343434" stroke="#343434" stroke-width="1.6" stroke-linejoin="round"/>
<path d="M395.32,530.91 L399.06,538.83 L391.58,538.83 Z" fill="#343434" stroke="#343434" stroke-width="1.6" stroke-linejoin="round"/>
<path d="M406.48,530.41 L410.22,538.33 L402.74,538.33 Z" fill="#343434" stroke="#343434" stroke-width="1.6" stroke-linejoin="round"/>
<path d="M90.4,751.8 H94.00 V508.7 H416.1" fill="none" stroke="#000" stroke-width="3.3" stroke-linejoin="round" stroke-linecap="round"/>
<line x1="94.00" y1="504.20" x2="94.00" y2="508.70" stroke="#000" stroke-width="3.0" stroke-linecap="butt"/>
<text transform="translate(84.02,493.55) scale(1.0147,1)" font-size="14.68" font-weight="normal" fill="#626262" stroke="#626262" stroke-width="0.30" stroke-linejoin="round">-85</text>
<line x1="149.80" y1="504.20" x2="149.80" y2="508.70" stroke="#000" stroke-width="3.0" stroke-linecap="butt"/>
<text transform="translate(139.80,493.55) scale(1.0147,1)" font-size="14.68" font-weight="normal" fill="#626262" stroke="#626262" stroke-width="0.30" stroke-linejoin="round">-60</text>
<line x1="205.60" y1="504.20" x2="205.60" y2="508.70" stroke="#000" stroke-width="3.0" stroke-linecap="butt"/>
<text transform="translate(195.62,493.55) scale(1.0147,1)" font-size="14.68" font-weight="normal" fill="#626262" stroke="#626262" stroke-width="0.30" stroke-linejoin="round">-35</text>
<line x1="261.40" y1="504.20" x2="261.40" y2="508.70" stroke="#000" stroke-width="3.0" stroke-linecap="butt"/>
<text transform="translate(251.40,493.55) scale(1.0147,1)" font-size="14.68" font-weight="normal" fill="#626262" stroke="#626262" stroke-width="0.30" stroke-linejoin="round">-10</text>
<line x1="317.20" y1="504.20" x2="317.20" y2="508.70" stroke="#000" stroke-width="3.0" stroke-linecap="butt"/>
<text transform="translate(309.51,493.55) scale(1.0091,1)" font-size="14.68" font-weight="normal" fill="#626262" stroke="#626262" stroke-width="0.30" stroke-linejoin="round">15</text>
<line x1="373.00" y1="504.20" x2="373.00" y2="508.70" stroke="#000" stroke-width="3.0" stroke-linecap="butt"/>
<text transform="translate(365.67,493.55) scale(1.0102,1)" font-size="14.68" font-weight="normal" fill="#626262" stroke="#626262" stroke-width="0.30" stroke-linejoin="round">40</text>
<line x1="89.00" y1="552.93" x2="94.00" y2="552.93" stroke="#000" stroke-width="3.0" stroke-linecap="butt"/>
<text transform="translate(43.57,558.73) scale(0.9904,1)" font-size="14.83" font-weight="normal" fill="#626262" stroke="#626262" stroke-width="0.30" stroke-linejoin="round">-1000</text>
<line x1="89.00" y1="619.27" x2="94.00" y2="619.27" stroke="#000" stroke-width="3.0" stroke-linecap="butt"/>
<text transform="translate(43.57,625.08) scale(0.9904,1)" font-size="14.83" font-weight="normal" fill="#626262" stroke="#626262" stroke-width="0.30" stroke-linejoin="round">-2500</text>
<line x1="89.00" y1="685.62" x2="94.00" y2="685.62" stroke="#000" stroke-width="3.0" stroke-linecap="butt"/>
<text transform="translate(43.57,691.42) scale(0.9904,1)" font-size="14.83" font-weight="normal" fill="#626262" stroke="#626262" stroke-width="0.30" stroke-linejoin="round">-4000</text>
<text transform="translate(43.57,757.76) scale(0.9904,1)" font-size="14.83" font-weight="normal" fill="#626262" stroke="#626262" stroke-width="0.30" stroke-linejoin="round">-5500</text>
<text transform="translate(140.70,475.68) scale(1.0186,1)" font-size="23.04" font-weight="normal" fill="#626262" stroke="#626262" stroke-width="0.25" stroke-linejoin="round">Membrane Voltage (mV)</text>
<text transform="translate(34.67,719.96) rotate(-90) scale(0.9592,1)" font-size="18.24" fill="#626262" stroke="#626262" stroke-width="0.25" stroke-linejoin="round">Current Amplitude (pA)</text>
<line x1="564.60" y1="522.20" x2="564.60" y2="532.20" stroke="#cacaca" stroke-width="2.2" stroke-linecap="butt"/>
<line x1="560.60" y1="522.20" x2="568.60" y2="522.20" stroke="#cacaca" stroke-width="2.4" stroke-linecap="butt"/>
<line x1="560.60" y1="532.20" x2="568.60" y2="532.20" stroke="#cacaca" stroke-width="2.4" stroke-linecap="butt"/>
<line x1="576.80" y1="527.20" x2="576.80" y2="537.20" stroke="#cacaca" stroke-width="2.2" stroke-linecap="butt"/>
<line x1="572.80" y1="527.20" x2="580.80" y2="527.20" stroke="#cacaca" stroke-width="2.4" stroke-linecap="butt"/>
<line x1="572.80" y1="537.20" x2="580.80" y2="537.20" stroke="#cacaca" stroke-width="2.4" stroke-linecap="butt"/>
<line x1="589.00" y1="550.10" x2="589.00" y2="606.10" stroke="#cacaca" stroke-width="2.2" stroke-linecap="butt"/>
<line x1="585.00" y1="550.10" x2="593.00" y2="550.10" stroke="#cacaca" stroke-width="2.4" stroke-linecap="butt"/>
<line x1="585.00" y1="606.10" x2="593.00" y2="606.10" stroke="#cacaca" stroke-width="2.4" stroke-linecap="butt"/>
<line x1="601.20" y1="595.60" x2="601.20" y2="665.00" stroke="#cacaca" stroke-width="2.2" stroke-linecap="butt"/>
<line x1="597.20" y1="595.60" x2="605.20" y2="595.60" stroke="#cacaca" stroke-width="2.4" stroke-linecap="butt"/>
<line x1="597.20" y1="665.00" x2="605.20" y2="665.00" stroke="#cacaca" stroke-width="2.4" stroke-linecap="butt"/>
<line x1="613.40" y1="645.10" x2="613.40" y2="707.10" stroke="#cacaca" stroke-width="2.2" stroke-linecap="butt"/>
<line x1="609.40" y1="645.10" x2="617.40" y2="645.10" stroke="#cacaca" stroke-width="2.4" stroke-linecap="butt"/>
<line x1="609.40" y1="707.10" x2="617.40" y2="707.10" stroke="#cacaca" stroke-width="2.4" stroke-linecap="butt"/>
<line x1="625.60" y1="667.40" x2="625.60" y2="729.40" stroke="#cacaca" stroke-width="2.2" stroke-linecap="butt"/>
<line x1="621.60" y1="667.40" x2="629.60" y2="667.40" stroke="#cacaca" stroke-width="2.4" stroke-linecap="butt"/>
<line x1="621.60" y1="729.40" x2="629.60" y2="729.40" stroke="#cacaca" stroke-width="2.4" stroke-linecap="butt"/>
<line x1="637.80" y1="683.60" x2="637.80" y2="739.60" stroke="#cacaca" stroke-width="2.2" stroke-linecap="butt"/>
<line x1="633.80" y1="683.60" x2="641.80" y2="683.60" stroke="#cacaca" stroke-width="2.4" stroke-linecap="butt"/>
<line x1="633.80" y1="739.60" x2="641.80" y2="739.60" stroke="#cacaca" stroke-width="2.4" stroke-linecap="butt"/>
<line x1="650.00" y1="680.80" x2="650.00" y2="731.80" stroke="#cacaca" stroke-width="2.2" stroke-linecap="butt"/>
<line x1="646.00" y1="680.80" x2="654.00" y2="680.80" stroke="#cacaca" stroke-width="2.4" stroke-linecap="butt"/>
<line x1="646.00" y1="731.80" x2="654.00" y2="731.80" stroke="#cacaca" stroke-width="2.4" stroke-linecap="butt"/>
<line x1="662.20" y1="679.20" x2="662.20" y2="727.20" stroke="#cacaca" stroke-width="2.2" stroke-linecap="butt"/>
<line x1="658.20" y1="679.20" x2="666.20" y2="679.20" stroke="#cacaca" stroke-width="2.4" stroke-linecap="butt"/>
<line x1="658.20" y1="727.20" x2="666.20" y2="727.20" stroke="#cacaca" stroke-width="2.4" stroke-linecap="butt"/>
<line x1="674.40" y1="674.30" x2="674.40" y2="720.30" stroke="#cacaca" stroke-width="2.2" stroke-linecap="butt"/>
<line x1="670.40" y1="674.30" x2="678.40" y2="674.30" stroke="#cacaca" stroke-width="2.4" stroke-linecap="butt"/>
<line x1="670.40" y1="720.30" x2="678.40" y2="720.30" stroke="#cacaca" stroke-width="2.4" stroke-linecap="butt"/>
<line x1="686.60" y1="667.00" x2="686.60" y2="709.00" stroke="#cacaca" stroke-width="2.2" stroke-linecap="butt"/>
<line x1="682.60" y1="667.00" x2="690.60" y2="667.00" stroke="#cacaca" stroke-width="2.4" stroke-linecap="butt"/>
<line x1="682.60" y1="709.00" x2="690.60" y2="709.00" stroke="#cacaca" stroke-width="2.4" stroke-linecap="butt"/>
<line x1="698.80" y1="661.20" x2="698.80" y2="698.40" stroke="#cacaca" stroke-width="2.2" stroke-linecap="butt"/>
<line x1="694.80" y1="661.20" x2="702.80" y2="661.20" stroke="#cacaca" stroke-width="2.4" stroke-linecap="butt"/>
<line x1="694.80" y1="698.40" x2="702.80" y2="698.40" stroke="#cacaca" stroke-width="2.4" stroke-linecap="butt"/>
<line x1="711.00" y1="652.20" x2="711.00" y2="686.20" stroke="#cacaca" stroke-width="2.2" stroke-linecap="butt"/>
<line x1="707.00" y1="652.20" x2="715.00" y2="652.20" stroke="#cacaca" stroke-width="2.4" stroke-linecap="butt"/>
<line x1="707.00" y1="686.20" x2="715.00" y2="686.20" stroke="#cacaca" stroke-width="2.4" stroke-linecap="butt"/>
<line x1="723.20" y1="641.30" x2="723.20" y2="672.30" stroke="#cacaca" stroke-width="2.2" stroke-linecap="butt"/>
<line x1="719.20" y1="641.30" x2="727.20" y2="641.30" stroke="#cacaca" stroke-width="2.4" stroke-linecap="butt"/>
<line x1="719.20" y1="672.30" x2="727.20" y2="672.30" stroke="#cacaca" stroke-width="2.4" stroke-linecap="butt"/>
<line x1="735.40" y1="630.80" x2="735.40" y2="658.80" stroke="#cacaca" stroke-width="2.2" stroke-linecap="butt"/>
<line x1="731.40" y1="630.80" x2="739.40" y2="630.80" stroke="#cacaca" stroke-width="2.4" stroke-linecap="butt"/>
<line x1="731.40" y1="658.80" x2="739.40" y2="658.80" stroke="#cacaca" stroke-width="2.4" stroke-linecap="butt"/>
<line x1="747.60" y1="621.00" x2="747.60" y2="647.00" stroke="#cacaca" stroke-width="2.2" stroke-linecap="butt"/>
<line x1="743.60" y1="621.00" x2="751.60" y2="621.00" stroke="#cacaca" stroke-width="2.4" stroke-linecap="butt"/>
<line x1="743.60" y1="647.00" x2="751.60" y2="647.00" stroke="#cacaca" stroke-width="2.4" stroke-linecap="butt"/>
<line x1="759.80" y1="611.70" x2="759.80" y2="635.70" stroke="#cacaca" stroke-width="2.2" stroke-linecap="butt"/>
<line x1="755.80" y1="611.70" x2="763.80" y2="611.70" stroke="#cacaca" stroke-width="2.4" stroke-linecap="butt"/>
<line x1="755.80" y1="635.70" x2="763.80" y2="635.70" stroke="#cacaca" stroke-width="2.4" stroke-linecap="butt"/>
<line x1="772.00" y1="602.00" x2="772.00" y2="622.00" stroke="#cacaca" stroke-width="2.2" stroke-linecap="butt"/>
<line x1="768.00" y1="602.00" x2="776.00" y2="602.00" stroke="#cacaca" stroke-width="2.4" stroke-linecap="butt"/>
<line x1="768.00" y1="622.00" x2="776.00" y2="622.00" stroke="#cacaca" stroke-width="2.4" stroke-linecap="butt"/>
<line x1="784.20" y1="592.80" x2="784.20" y2="612.80" stroke="#cacaca" stroke-width="2.2" stroke-linecap="butt"/>
<line x1="780.20" y1="592.80" x2="788.20" y2="592.80" stroke="#cacaca" stroke-width="2.4" stroke-linecap="butt"/>
<line x1="780.20" y1="612.80" x2="788.20" y2="612.80" stroke="#cacaca" stroke-width="2.4" stroke-linecap="butt"/>
<line x1="796.40" y1="583.70" x2="796.40" y2="601.90" stroke="#cacaca" stroke-width="2.2" stroke-linecap="butt"/>
<line x1="792.40" y1="583.70" x2="800.40" y2="583.70" stroke="#cacaca" stroke-width="2.4" stroke-linecap="butt"/>
<line x1="792.40" y1="601.90" x2="800.40" y2="601.90" stroke="#cacaca" stroke-width="2.4" stroke-linecap="butt"/>
<line x1="808.60" y1="577.10" x2="808.60" y2="592.70" stroke="#cacaca" stroke-width="2.2" stroke-linecap="butt"/>
<line x1="804.60" y1="577.10" x2="812.60" y2="577.10" stroke="#cacaca" stroke-width="2.4" stroke-linecap="butt"/>
<line x1="804.60" y1="592.70" x2="812.60" y2="592.70" stroke="#cacaca" stroke-width="2.4" stroke-linecap="butt"/>
<line x1="820.80" y1="568.80" x2="820.80" y2="583.80" stroke="#cacaca" stroke-width="2.2" stroke-linecap="butt"/>
<line x1="816.80" y1="568.80" x2="824.80" y2="568.80" stroke="#cacaca" stroke-width="2.4" stroke-linecap="butt"/>
<line x1="816.80" y1="583.80" x2="824.80" y2="583.80" stroke="#cacaca" stroke-width="2.4" stroke-linecap="butt"/>
<line x1="833.00" y1="564.20" x2="833.00" y2="575.20" stroke="#cacaca" stroke-width="2.2" stroke-linecap="butt"/>
<line x1="829.00" y1="564.20" x2="837.00" y2="564.20" stroke="#cacaca" stroke-width="2.4" stroke-linecap="butt"/>
<line x1="829.00" y1="575.20" x2="837.00" y2="575.20" stroke="#cacaca" stroke-width="2.4" stroke-linecap="butt"/>
<line x1="576.80" y1="521.40" x2="576.80" y2="529.40" stroke="#727272" stroke-width="2.2" stroke-linecap="butt"/>
<line x1="572.80" y1="521.40" x2="580.80" y2="521.40" stroke="#727272" stroke-width="2.4" stroke-linecap="butt"/>
<line x1="572.80" y1="529.40" x2="580.80" y2="529.40" stroke="#727272" stroke-width="2.4" stroke-linecap="butt"/>
<line x1="589.00" y1="528.50" x2="589.00" y2="540.50" stroke="#727272" stroke-width="2.2" stroke-linecap="butt"/>
<line x1="585.00" y1="528.50" x2="593.00" y2="528.50" stroke="#727272" stroke-width="2.4" stroke-linecap="butt"/>
<line x1="585.00" y1="540.50" x2="593.00" y2="540.50" stroke="#727272" stroke-width="2.4" stroke-linecap="butt"/>
<line x1="601.20" y1="536.90" x2="601.20" y2="552.90" stroke="#727272" stroke-width="2.2" stroke-linecap="butt"/>
<line x1="597.20" y1="536.90" x2="605.20" y2="536.90" stroke="#727272" stroke-width="2.4" stroke-linecap="butt"/>
<line x1="597.20" y1="552.90" x2="605.20" y2="552.90" stroke="#727272" stroke-width="2.4" stroke-linecap="butt"/>
<line x1="613.40" y1="560.50" x2="613.40" y2="590.50" stroke="#727272" stroke-width="2.2" stroke-linecap="butt"/>
<line x1="609.40" y1="560.50" x2="617.40" y2="560.50" stroke="#727272" stroke-width="2.4" stroke-linecap="butt"/>
<line x1="609.40" y1="590.50" x2="617.40" y2="590.50" stroke="#727272" stroke-width="2.4" stroke-linecap="butt"/>
<line x1="625.60" y1="595.00" x2="625.60" y2="631.00" stroke="#727272" stroke-width="2.2" stroke-linecap="butt"/>
<line x1="621.60" y1="595.00" x2="629.60" y2="595.00" stroke="#727272" stroke-width="2.4" stroke-linecap="butt"/>
<line x1="621.60" y1="631.00" x2="629.60" y2="631.00" stroke="#727272" stroke-width="2.4" stroke-linecap="butt"/>
<line x1="637.80" y1="613.30" x2="637.80" y2="647.30" stroke="#727272" stroke-width="2.2" stroke-linecap="butt"/>
<line x1="633.80" y1="613.30" x2="641.80" y2="613.30" stroke="#727272" stroke-width="2.4" stroke-linecap="butt"/>
<line x1="633.80" y1="647.30" x2="641.80" y2="647.30" stroke="#727272" stroke-width="2.4" stroke-linecap="butt"/>
<line x1="650.00" y1="630.40" x2="650.00" y2="660.40" stroke="#727272" stroke-width="2.2" stroke-linecap="butt"/>
<line x1="646.00" y1="630.40" x2="654.00" y2="630.40" stroke="#727272" stroke-width="2.4" stroke-linecap="butt"/>
<line x1="646.00" y1="660.40" x2="654.00" y2="660.40" stroke="#727272" stroke-width="2.4" stroke-linecap="butt"/>
<line x1="662.20" y1="635.80" x2="662.20" y2="661.80" stroke="#727272" stroke-width="2.2" stroke-linecap="butt"/>
<line x1="658.20" y1="635.80" x2="666.20" y2="635.80" stroke="#727272" stroke-width="2.4" stroke-linecap="butt"/>
<line x1="658.20" y1="661.80" x2="666.20" y2="661.80" stroke="#727272" stroke-width="2.4" stroke-linecap="butt"/>
<line x1="674.40" y1="635.50" x2="674.40" y2="659.50" stroke="#727272" stroke-width="2.2" stroke-linecap="butt"/>
<line x1="670.40" y1="635.50" x2="678.40" y2="635.50" stroke="#727272" stroke-width="2.4" stroke-linecap="butt"/>
<line x1="670.40" y1="659.50" x2="678.40" y2="659.50" stroke="#727272" stroke-width="2.4" stroke-linecap="butt"/>
<line x1="686.60" y1="632.50" x2="686.60" y2="654.50" stroke="#727272" stroke-width="2.2" stroke-linecap="butt"/>
<line x1="682.60" y1="632.50" x2="690.60" y2="632.50" stroke="#727272" stroke-width="2.4" stroke-linecap="butt"/>
<line x1="682.60" y1="654.50" x2="690.60" y2="654.50" stroke="#727272" stroke-width="2.4" stroke-linecap="butt"/>
<line x1="698.80" y1="626.70" x2="698.80" y2="649.70" stroke="#727272" stroke-width="2.2" stroke-linecap="butt"/>
<line x1="694.80" y1="626.70" x2="702.80" y2="626.70" stroke="#727272" stroke-width="2.4" stroke-linecap="butt"/>
<line x1="694.80" y1="649.70" x2="702.80" y2="649.70" stroke="#727272" stroke-width="2.4" stroke-linecap="butt"/>
<line x1="711.00" y1="614.40" x2="711.00" y2="635.60" stroke="#727272" stroke-width="2.2" stroke-linecap="butt"/>
<line x1="707.00" y1="614.40" x2="715.00" y2="614.40" stroke="#727272" stroke-width="2.4" stroke-linecap="butt"/>
<line x1="707.00" y1="635.60" x2="715.00" y2="635.60" stroke="#727272" stroke-width="2.4" stroke-linecap="butt"/>
<line x1="723.20" y1="603.40" x2="723.20" y2="623.40" stroke="#727272" stroke-width="2.2" stroke-linecap="butt"/>
<line x1="719.20" y1="603.40" x2="727.20" y2="603.40" stroke="#727272" stroke-width="2.4" stroke-linecap="butt"/>
<line x1="719.20" y1="623.40" x2="727.20" y2="623.40" stroke="#727272" stroke-width="2.4" stroke-linecap="butt"/>
<line x1="735.40" y1="592.70" x2="735.40" y2="611.70" stroke="#727272" stroke-width="2.2" stroke-linecap="butt"/>
<line x1="731.40" y1="592.70" x2="739.40" y2="592.70" stroke="#727272" stroke-width="2.4" stroke-linecap="butt"/>
<line x1="731.40" y1="611.70" x2="739.40" y2="611.70" stroke="#727272" stroke-width="2.4" stroke-linecap="butt"/>
<line x1="747.60" y1="581.30" x2="747.60" y2="599.50" stroke="#727272" stroke-width="2.2" stroke-linecap="butt"/>
<line x1="743.60" y1="581.30" x2="751.60" y2="581.30" stroke="#727272" stroke-width="2.4" stroke-linecap="butt"/>
<line x1="743.60" y1="599.50" x2="751.60" y2="599.50" stroke="#727272" stroke-width="2.4" stroke-linecap="butt"/>
<line x1="759.80" y1="568.50" x2="759.80" y2="584.50" stroke="#727272" stroke-width="2.2" stroke-linecap="butt"/>
<line x1="755.80" y1="568.50" x2="763.80" y2="568.50" stroke="#727272" stroke-width="2.4" stroke-linecap="butt"/>
<line x1="755.80" y1="584.50" x2="763.80" y2="584.50" stroke="#727272" stroke-width="2.4" stroke-linecap="butt"/>
<line x1="772.00" y1="561.40" x2="772.00" y2="575.40" stroke="#727272" stroke-width="2.2" stroke-linecap="butt"/>
<line x1="768.00" y1="561.40" x2="776.00" y2="561.40" stroke="#727272" stroke-width="2.4" stroke-linecap="butt"/>
<line x1="768.00" y1="575.40" x2="776.00" y2="575.40" stroke="#727272" stroke-width="2.4" stroke-linecap="butt"/>
<line x1="784.20" y1="555.00" x2="784.20" y2="567.00" stroke="#727272" stroke-width="2.2" stroke-linecap="butt"/>
<line x1="780.20" y1="555.00" x2="788.20" y2="555.00" stroke="#727272" stroke-width="2.4" stroke-linecap="butt"/>
<line x1="780.20" y1="567.00" x2="788.20" y2="567.00" stroke="#727272" stroke-width="2.4" stroke-linecap="butt"/>
<line x1="796.40" y1="545.50" x2="796.40" y2="556.50" stroke="#727272" stroke-width="2.2" stroke-linecap="butt"/>
<line x1="792.40" y1="545.50" x2="800.40" y2="545.50" stroke="#727272" stroke-width="2.4" stroke-linecap="butt"/>
<line x1="792.40" y1="556.50" x2="800.40" y2="556.50" stroke="#727272" stroke-width="2.4" stroke-linecap="butt"/>
<line x1="808.60" y1="541.50" x2="808.60" y2="551.50" stroke="#727272" stroke-width="2.2" stroke-linecap="butt"/>
<line x1="804.60" y1="541.50" x2="812.60" y2="541.50" stroke="#727272" stroke-width="2.4" stroke-linecap="butt"/>
<line x1="804.60" y1="551.50" x2="812.60" y2="551.50" stroke="#727272" stroke-width="2.4" stroke-linecap="butt"/>
<line x1="820.80" y1="537.50" x2="820.80" y2="547.50" stroke="#727272" stroke-width="2.2" stroke-linecap="butt"/>
<line x1="816.80" y1="537.50" x2="824.80" y2="537.50" stroke="#727272" stroke-width="2.4" stroke-linecap="butt"/>
<line x1="816.80" y1="547.50" x2="824.80" y2="547.50" stroke="#727272" stroke-width="2.4" stroke-linecap="butt"/>
<line x1="833.00" y1="533.30" x2="833.00" y2="543.30" stroke="#727272" stroke-width="2.2" stroke-linecap="butt"/>
<line x1="829.00" y1="533.30" x2="837.00" y2="533.30" stroke="#727272" stroke-width="2.4" stroke-linecap="butt"/>
<line x1="829.00" y1="543.30" x2="837.00" y2="543.30" stroke="#727272" stroke-width="2.4" stroke-linecap="butt"/>
<line x1="601.20" y1="522.80" x2="601.20" y2="528.80" stroke="#343434" stroke-width="2.2" stroke-linecap="butt"/>
<line x1="597.20" y1="522.80" x2="605.20" y2="522.80" stroke="#343434" stroke-width="2.4" stroke-linecap="butt"/>
<line x1="597.20" y1="528.80" x2="605.20" y2="528.80" stroke="#343434" stroke-width="2.4" stroke-linecap="butt"/>
<line x1="613.40" y1="524.10" x2="613.40" y2="539.30" stroke="#343434" stroke-width="2.2" stroke-linecap="butt"/>
<line x1="609.40" y1="524.10" x2="617.40" y2="524.10" stroke="#343434" stroke-width="2.4" stroke-linecap="butt"/>
<line x1="609.40" y1="539.30" x2="617.40" y2="539.30" stroke="#343434" stroke-width="2.4" stroke-linecap="butt"/>
<line x1="625.60" y1="528.50" x2="625.60" y2="543.70" stroke="#343434" stroke-width="2.2" stroke-linecap="butt"/>
<line x1="621.60" y1="528.50" x2="629.60" y2="528.50" stroke="#343434" stroke-width="2.4" stroke-linecap="butt"/>
<line x1="621.60" y1="543.70" x2="629.60" y2="543.70" stroke="#343434" stroke-width="2.4" stroke-linecap="butt"/>
<line x1="637.80" y1="537.30" x2="637.80" y2="553.90" stroke="#343434" stroke-width="2.2" stroke-linecap="butt"/>
<line x1="633.80" y1="537.30" x2="641.80" y2="537.30" stroke="#343434" stroke-width="2.4" stroke-linecap="butt"/>
<line x1="633.80" y1="553.90" x2="641.80" y2="553.90" stroke="#343434" stroke-width="2.4" stroke-linecap="butt"/>
<line x1="650.00" y1="547.30" x2="650.00" y2="566.90" stroke="#343434" stroke-width="2.2" stroke-linecap="butt"/>
<line x1="646.00" y1="547.30" x2="654.00" y2="547.30" stroke="#343434" stroke-width="2.4" stroke-linecap="butt"/>
<line x1="646.00" y1="566.90" x2="654.00" y2="566.90" stroke="#343434" stroke-width="2.4" stroke-linecap="butt"/>
<line x1="662.20" y1="557.40" x2="662.20" y2="579.00" stroke="#343434" stroke-width="2.2" stroke-linecap="butt"/>
<line x1="658.20" y1="557.40" x2="666.20" y2="557.40" stroke="#343434" stroke-width="2.4" stroke-linecap="butt"/>
<line x1="658.20" y1="579.00" x2="666.20" y2="579.00" stroke="#343434" stroke-width="2.4" stroke-linecap="butt"/>
<line x1="674.40" y1="566.70" x2="674.40" y2="590.90" stroke="#343434" stroke-width="2.2" stroke-linecap="butt"/>
<line x1="670.40" y1="566.70" x2="678.40" y2="566.70" stroke="#343434" stroke-width="2.4" stroke-linecap="butt"/>
<line x1="670.40" y1="590.90" x2="678.40" y2="590.90" stroke="#343434" stroke-width="2.4" stroke-linecap="butt"/>
<line x1="686.60" y1="573.20" x2="686.60" y2="599.40" stroke="#343434" stroke-width="2.2" stroke-linecap="butt"/>
<line x1="682.60" y1="573.20" x2="690.60" y2="573.20" stroke="#343434" stroke-width="2.4" stroke-linecap="butt"/>
<line x1="682.60" y1="599.40" x2="690.60" y2="599.40" stroke="#343434" stroke-width="2.4" stroke-linecap="butt"/>
<line x1="698.80" y1="576.50" x2="698.80" y2="603.30" stroke="#343434" stroke-width="2.2" stroke-linecap="butt"/>
<line x1="694.80" y1="576.50" x2="702.80" y2="576.50" stroke="#343434" stroke-width="2.4" stroke-linecap="butt"/>
<line x1="694.80" y1="603.30" x2="702.80" y2="603.30" stroke="#343434" stroke-width="2.4" stroke-linecap="butt"/>
<line x1="711.00" y1="576.50" x2="711.00" y2="605.30" stroke="#343434" stroke-width="2.2" stroke-linecap="butt"/>
<line x1="707.00" y1="576.50" x2="715.00" y2="576.50" stroke="#343434" stroke-width="2.4" stroke-linecap="butt"/>
<line x1="707.00" y1="605.30" x2="715.00" y2="605.30" stroke="#343434" stroke-width="2.4" stroke-linecap="butt"/>
<line x1="723.20" y1="575.70" x2="723.20" y2="603.50" stroke="#343434" stroke-width="2.2" stroke-linecap="butt"/>
<line x1="719.20" y1="575.70" x2="727.20" y2="575.70" stroke="#343434" stroke-width="2.4" stroke-linecap="butt"/>
<line x1="719.20" y1="603.50" x2="727.20" y2="603.50" stroke="#343434" stroke-width="2.4" stroke-linecap="butt"/>
<line x1="735.40" y1="573.50" x2="735.40" y2="603.50" stroke="#343434" stroke-width="2.2" stroke-linecap="butt"/>
<line x1="731.40" y1="573.50" x2="739.40" y2="573.50" stroke="#343434" stroke-width="2.4" stroke-linecap="butt"/>
<line x1="731.40" y1="603.50" x2="739.40" y2="603.50" stroke="#343434" stroke-width="2.4" stroke-linecap="butt"/>
<line x1="747.60" y1="569.40" x2="747.60" y2="596.20" stroke="#343434" stroke-width="2.2" stroke-linecap="butt"/>
<line x1="743.60" y1="569.40" x2="751.60" y2="569.40" stroke="#343434" stroke-width="2.4" stroke-linecap="butt"/>
<line x1="743.60" y1="596.20" x2="751.60" y2="596.20" stroke="#343434" stroke-width="2.4" stroke-linecap="butt"/>
<line x1="759.80" y1="565.30" x2="759.80" y2="587.70" stroke="#343434" stroke-width="2.2" stroke-linecap="butt"/>
<line x1="755.80" y1="565.30" x2="763.80" y2="565.30" stroke="#343434" stroke-width="2.4" stroke-linecap="butt"/>
<line x1="755.80" y1="587.70" x2="763.80" y2="587.70" stroke="#343434" stroke-width="2.4" stroke-linecap="butt"/>
<line x1="772.00" y1="563.00" x2="772.00" y2="581.00" stroke="#343434" stroke-width="2.2" stroke-linecap="butt"/>
<line x1="768.00" y1="563.00" x2="776.00" y2="563.00" stroke="#343434" stroke-width="2.4" stroke-linecap="butt"/>
<line x1="768.00" y1="581.00" x2="776.00" y2="581.00" stroke="#343434" stroke-width="2.4" stroke-linecap="butt"/>
<line x1="784.20" y1="561.00" x2="784.20" y2="575.60" stroke="#343434" stroke-width="2.2" stroke-linecap="butt"/>
<line x1="780.20" y1="561.00" x2="788.20" y2="561.00" stroke="#343434" stroke-width="2.4" stroke-linecap="butt"/>
<line x1="780.20" y1="575.60" x2="788.20" y2="575.60" stroke="#343434" stroke-width="2.4" stroke-linecap="butt"/>
<line x1="796.40" y1="554.80" x2="796.40" y2="570.00" stroke="#343434" stroke-width="2.2" stroke-linecap="butt"/>
<line x1="792.40" y1="554.80" x2="800.40" y2="554.80" stroke="#343434" stroke-width="2.4" stroke-linecap="butt"/>
<line x1="792.40" y1="570.00" x2="800.40" y2="570.00" stroke="#343434" stroke-width="2.4" stroke-linecap="butt"/>
<line x1="808.60" y1="553.10" x2="808.60" y2="566.30" stroke="#343434" stroke-width="2.2" stroke-linecap="butt"/>
<line x1="804.60" y1="553.10" x2="812.60" y2="553.10" stroke="#343434" stroke-width="2.4" stroke-linecap="butt"/>
<line x1="804.60" y1="566.30" x2="812.60" y2="566.30" stroke="#343434" stroke-width="2.4" stroke-linecap="butt"/>
<line x1="820.80" y1="551.00" x2="820.80" y2="564.40" stroke="#343434" stroke-width="2.2" stroke-linecap="butt"/>
<line x1="816.80" y1="551.00" x2="824.80" y2="551.00" stroke="#343434" stroke-width="2.4" stroke-linecap="butt"/>
<line x1="816.80" y1="564.40" x2="824.80" y2="564.40" stroke="#343434" stroke-width="2.4" stroke-linecap="butt"/>
<line x1="833.00" y1="553.00" x2="833.00" y2="562.00" stroke="#343434" stroke-width="2.2" stroke-linecap="butt"/>
<line x1="829.00" y1="553.00" x2="837.00" y2="553.00" stroke="#343434" stroke-width="2.4" stroke-linecap="butt"/>
<line x1="829.00" y1="562.00" x2="837.00" y2="562.00" stroke="#343434" stroke-width="2.4" stroke-linecap="butt"/>
<polyline points="503.60,520.20 515.80,520.20 528.00,520.20 540.20,520.20 552.40,520.20 564.60,527.20 576.80,532.20 589.00,578.10 601.20,630.30 613.40,676.10 625.60,698.40 637.80,711.60 650.00,706.30 662.20,703.20 674.40,697.30 686.60,688.00 698.80,679.80 711.00,669.20 723.20,656.80 735.40,644.80 747.60,634.00 759.80,623.70 772.00,612.00 784.20,602.80 796.40,592.80 808.60,584.90 820.80,576.30 833.00,569.70" fill="none" stroke="#cacaca" stroke-width="2.6" stroke-linejoin="round"/>
<polyline points="503.60,520.20 515.80,520.20 528.00,520.20 540.20,520.20 552.40,520.20 564.60,520.20 576.80,525.40 589.00,534.50 601.20,544.90 613.40,575.50 625.60,613.00 637.80,630.30 650.00,645.40 662.20,648.80 674.40,647.50 686.60,643.50 698.80,638.20 711.00,625.00 723.20,613.40 735.40,602.20 747.60,590.40 759.80,576.50 772.00,568.40 784.20,561.00 796.40,551.00 808.60,546.50 820.80,542.50 833.00,538.30" fill="none" stroke="#727272" stroke-width="2.6" stroke-linejoin="round"/>
<polyline points="503.60,518.10 515.80,518.10 528.00,518.10 540.20,518.10 552.40,518.10 564.60,518.10 576.80,518.30 589.00,519.50 601.20,525.80 613.40,531.70 625.60,536.10 637.80,545.60 650.00,557.10 662.20,568.20 674.40,578.80 686.60,586.30 698.80,589.90 711.00,590.90 723.20,589.60 735.40,588.50 747.60,582.80 759.80,576.50 772.00,572.00 784.20,568.30 796.40,562.40 808.60,559.70 820.80,557.70 833.00,557.50" fill="none" stroke="#343434" stroke-width="2.6" stroke-linejoin="round"/>
<circle cx="503.60" cy="520.20" r="4.4" fill="#cacaca"/>
<circle cx="515.80" cy="520.20" r="4.4" fill="#cacaca"/>
<circle cx="528.00" cy="520.20" r="4.4" fill="#cacaca"/>
<circle cx="540.20" cy="520.20" r="4.4" fill="#cacaca"/>
<circle cx="552.40" cy="520.20" r="4.4" fill="#cacaca"/>
<circle cx="564.60" cy="527.20" r="4.4" fill="#cacaca"/>
<circle cx="576.80" cy="532.20" r="4.4" fill="#cacaca"/>
<circle cx="589.00" cy="578.10" r="4.4" fill="#cacaca"/>
<circle cx="601.20" cy="630.30" r="4.4" fill="#cacaca"/>
<circle cx="613.40" cy="676.10" r="4.4" fill="#cacaca"/>
<circle cx="625.60" cy="698.40" r="4.4" fill="#cacaca"/>
<circle cx="637.80" cy="711.60" r="4.4" fill="#cacaca"/>
<circle cx="650.00" cy="706.30" r="4.4" fill="#cacaca"/>
<circle cx="662.20" cy="703.20" r="4.4" fill="#cacaca"/>
<circle cx="674.40" cy="697.30" r="4.4" fill="#cacaca"/>
<circle cx="686.60" cy="688.00" r="4.4" fill="#cacaca"/>
<circle cx="698.80" cy="679.80" r="4.4" fill="#cacaca"/>
<circle cx="711.00" cy="669.20" r="4.4" fill="#cacaca"/>
<circle cx="723.20" cy="656.80" r="4.4" fill="#cacaca"/>
<circle cx="735.40" cy="644.80" r="4.4" fill="#cacaca"/>
<circle cx="747.60" cy="634.00" r="4.4" fill="#cacaca"/>
<circle cx="759.80" cy="623.70" r="4.4" fill="#cacaca"/>
<circle cx="772.00" cy="612.00" r="4.4" fill="#cacaca"/>
<circle cx="784.20" cy="602.80" r="4.4" fill="#cacaca"/>
<circle cx="796.40" cy="592.80" r="4.4" fill="#cacaca"/>
<circle cx="808.60" cy="584.90" r="4.4" fill="#cacaca"/>
<circle cx="820.80" cy="576.30" r="4.4" fill="#cacaca"/>
<circle cx="833.00" cy="569.70" r="4.4" fill="#cacaca"/>
<rect x="499.30" y="515.90" width="8.6" height="8.6" fill="#727272"/>
<rect x="511.50" y="515.90" width="8.6" height="8.6" fill="#727272"/>
<rect x="523.70" y="515.90" width="8.6" height="8.6" fill="#727272"/>
<rect x="535.90" y="515.90" width="8.6" height="8.6" fill="#727272"/>
<rect x="548.10" y="515.90" width="8.6" height="8.6" fill="#727272"/>
<rect x="560.30" y="515.90" width="8.6" height="8.6" fill="#727272"/>
<rect x="572.50" y="521.10" width="8.6" height="8.6" fill="#727272"/>
<rect x="584.70" y="530.20" width="8.6" height="8.6" fill="#727272"/>
<rect x="596.90" y="540.60" width="8.6" height="8.6" fill="#727272"/>
<rect x="609.10" y="571.20" width="8.6" height="8.6" fill="#727272"/>
<rect x="621.30" y="608.70" width="8.6" height="8.6" fill="#727272"/>
<rect x="633.50" y="626.00" width="8.6" height="8.6" fill="#727272"/>
<rect x="645.70" y="641.10" width="8.6" height="8.6" fill="#727272"/>
<rect x="657.90" y="644.50" width="8.6" height="8.6" fill="#727272"/>
<rect x="670.10" y="643.20" width="8.6" height="8.6" fill="#727272"/>
<rect x="682.30" y="639.20" width="8.6" height="8.6" fill="#727272"/>
<rect x="694.50" y="633.90" width="8.6" height="8.6" fill="#727272"/>
<rect x="706.70" y="620.70" width="8.6" height="8.6" fill="#727272"/>
<rect x="718.90" y="609.10" width="8.6" height="8.6" fill="#727272"/>
<rect x="731.10" y="597.90" width="8.6" height="8.6" fill="#727272"/>
<rect x="743.30" y="586.10" width="8.6" height="8.6" fill="#727272"/>
<rect x="755.50" y="572.20" width="8.6" height="8.6" fill="#727272"/>
<rect x="767.70" y="564.10" width="8.6" height="8.6" fill="#727272"/>
<rect x="779.90" y="556.70" width="8.6" height="8.6" fill="#727272"/>
<rect x="792.10" y="546.70" width="8.6" height="8.6" fill="#727272"/>
<rect x="804.30" y="542.20" width="8.6" height="8.6" fill="#727272"/>
<rect x="816.50" y="538.20" width="8.6" height="8.6" fill="#727272"/>
<rect x="828.70" y="534.00" width="8.6" height="8.6" fill="#727272"/>
<path d="M503.60,513.51 L507.34,521.43 L499.86,521.43 Z" fill="#343434" stroke="#343434" stroke-width="1.6" stroke-linejoin="round"/>
<path d="M515.80,513.51 L519.54,521.43 L512.06,521.43 Z" fill="#343434" stroke="#343434" stroke-width="1.6" stroke-linejoin="round"/>
<path d="M528.00,513.51 L531.74,521.43 L524.26,521.43 Z" fill="#343434" stroke="#343434" stroke-width="1.6" stroke-linejoin="round"/>
<path d="M540.20,513.51 L543.94,521.43 L536.46,521.43 Z" fill="#343434" stroke="#343434" stroke-width="1.6" stroke-linejoin="round"/>
<path d="M552.40,513.51 L556.14,521.43 L548.66,521.43 Z" fill="#343434" stroke="#343434" stroke-width="1.6" stroke-linejoin="round"/>
<path d="M564.60,513.51 L568.34,521.43 L560.86,521.43 Z" fill="#343434" stroke="#343434" stroke-width="1.6" stroke-linejoin="round"/>
<path d="M576.80,513.71 L580.54,521.63 L573.06,521.63 Z" fill="#343434" stroke="#343434" stroke-width="1.6" stroke-linejoin="round"/>
<path d="M589.00,514.91 L592.74,522.83 L585.26,522.83 Z" fill="#343434" stroke="#343434" stroke-width="1.6" stroke-linejoin="round"/>
<path d="M601.20,521.21 L604.94,529.13 L597.46,529.13 Z" fill="#343434" stroke="#343434" stroke-width="1.6" stroke-linejoin="round"/>
<path d="M613.40,527.11 L617.14,535.03 L609.66,535.03 Z" fill="#343434" stroke="#343434" stroke-width="1.6" stroke-linejoin="round"/>
<path d="M625.60,531.51 L629.34,539.43 L621.86,539.43 Z" fill="#343434" stroke="#343434" stroke-width="1.6" stroke-linejoin="round"/>
<path d="M637.80,541.01 L641.54,548.93 L634.06,548.93 Z" fill="#343434" stroke="#343434" stroke-width="1.6" stroke-linejoin="round"/>
<path d="M650.00,552.51 L653.74,560.43 L646.26,560.43 Z" fill="#343434" stroke="#343434" stroke-width="1.6" stroke-linejoin="round"/>
<path d="M662.20,563.61 L665.94,571.53 L658.46,571.53 Z" fill="#343434" stroke="#343434" stroke-width="1.6" stroke-linejoin="round"/>
<path d="M674.40,574.21 L678.14,582.13 L670.66,582.13 Z" fill="#343434" stroke="#343434" stroke-width="1.6" stroke-linejoin="round"/>
<path d="M686.60,581.71 L690.34,589.63 L682.86,589.63 Z" fill="#343434" stroke="#343434" stroke-width="1.6" stroke-linejoin="round"/>
<path d="M698.80,585.31 L702.54,593.23 L695.06,593.23 Z" fill="#343434" stroke="#343434" stroke-width="1.6" stroke-linejoin="round"/>
<path d="M711.00,586.31 L714.74,594.23 L707.26,594.23 Z" fill="#343434" stroke="#343434" stroke-width="1.6" stroke-linejoin="round"/>
<path d="M723.20,585.01 L726.94,592.93 L719.46,592.93 Z" fill="#343434" stroke="#343434" stroke-width="1.6" stroke-linejoin="round"/>
<path d="M735.40,583.91 L739.14,591.83 L731.66,591.83 Z" fill="#343434" stroke="#343434" stroke-width="1.6" stroke-linejoin="round"/>
<path d="M747.60,578.21 L751.34,586.13 L743.86,586.13 Z" fill="#343434" stroke="#343434" stroke-width="1.6" stroke-linejoin="round"/>
<path d="M759.80,571.91 L763.54,579.83 L756.06,579.83 Z" fill="#343434" stroke="#343434" stroke-width="1.6" stroke-linejoin="round"/>
<path d="M772.00,567.41 L775.74,575.33 L768.26,575.33 Z" fill="#343434" stroke="#343434" stroke-width="1.6" stroke-linejoin="round"/>
<path d="M784.20,563.71 L787.94,571.63 L780.46,571.63 Z" fill="#343434" stroke="#343434" stroke-width="1.6" stroke-linejoin="round"/>
<path d="M796.40,557.81 L800.14,565.73 L792.66,565.73 Z" fill="#343434" stroke="#343434" stroke-width="1.6" stroke-linejoin="round"/>
<path d="M808.60,555.11 L812.34,563.03 L804.86,563.03 Z" fill="#343434" stroke="#343434" stroke-width="1.6" stroke-linejoin="round"/>
<path d="M820.80,553.11 L824.54,561.03 L817.06,561.03 Z" fill="#343434" stroke="#343434" stroke-width="1.6" stroke-linejoin="round"/>
<path d="M833.00,552.91 L836.74,560.83 L829.26,560.83 Z" fill="#343434" stroke="#343434" stroke-width="1.6" stroke-linejoin="round"/>
<path d="M487.8,749.7 H491.4 V510 H840.4" fill="none" stroke="#000" stroke-width="3.3" stroke-linejoin="round" stroke-linecap="round"/>
<line x1="491.40" y1="505.60" x2="491.40" y2="510.00" stroke="#000" stroke-width="3.0" stroke-linecap="butt"/>
<text transform="translate(481.02,494.45) scale(1.0147,1)" font-size="14.68" font-weight="normal" fill="#626262" stroke="#626262" stroke-width="0.30" stroke-linejoin="round">-85</text>
<line x1="552.40" y1="505.60" x2="552.40" y2="510.00" stroke="#000" stroke-width="3.0" stroke-linecap="butt"/>
<text transform="translate(542.00,494.45) scale(1.0147,1)" font-size="14.68" font-weight="normal" fill="#626262" stroke="#626262" stroke-width="0.30" stroke-linejoin="round">-60</text>
<line x1="613.40" y1="505.60" x2="613.40" y2="510.00" stroke="#000" stroke-width="3.0" stroke-linecap="butt"/>
<text transform="translate(603.02,494.45) scale(1.0147,1)" font-size="14.68" font-weight="normal" fill="#626262" stroke="#626262" stroke-width="0.30" stroke-linejoin="round">-35</text>
<line x1="674.40" y1="505.60" x2="674.40" y2="510.00" stroke="#000" stroke-width="3.0" stroke-linecap="butt"/>
<text transform="translate(664.00,494.45) scale(1.0147,1)" font-size="14.68" font-weight="normal" fill="#626262" stroke="#626262" stroke-width="0.30" stroke-linejoin="round">-10</text>
<line x1="735.40" y1="505.60" x2="735.40" y2="510.00" stroke="#000" stroke-width="3.0" stroke-linecap="butt"/>
<text transform="translate(727.31,494.45) scale(1.0091,1)" font-size="14.68" font-weight="normal" fill="#626262" stroke="#626262" stroke-width="0.30" stroke-linejoin="round">15</text>
<line x1="796.40" y1="505.60" x2="796.40" y2="510.00" stroke="#000" stroke-width="3.0" stroke-linecap="butt"/>
<text transform="translate(788.67,494.45) scale(1.0102,1)" font-size="14.68" font-weight="normal" fill="#626262" stroke="#626262" stroke-width="0.30" stroke-linejoin="round">40</text>
<line x1="486.40" y1="510.00" x2="491.40" y2="510.00" stroke="#000" stroke-width="3.0" stroke-linecap="butt"/>
<text transform="translate(469.49,515.50) scale(1.0386,1)" font-size="14.83" font-weight="normal" fill="#626262" stroke="#626262" stroke-width="0.30" stroke-linejoin="round">0</text>
<line x1="486.40" y1="569.93" x2="491.40" y2="569.93" stroke="#000" stroke-width="3.0" stroke-linecap="butt"/>
<text transform="translate(446.31,575.43) scale(1.0703,1)" font-size="14.83" font-weight="normal" fill="#626262" stroke="#626262" stroke-width="0.30" stroke-linejoin="round">-100</text>
<line x1="486.40" y1="629.86" x2="491.40" y2="629.86" stroke="#000" stroke-width="3.0" stroke-linecap="butt"/>
<text transform="translate(446.31,635.36) scale(1.0703,1)" font-size="14.83" font-weight="normal" fill="#626262" stroke="#626262" stroke-width="0.30" stroke-linejoin="round">-200</text>
<line x1="486.40" y1="689.79" x2="491.40" y2="689.79" stroke="#000" stroke-width="3.0" stroke-linecap="butt"/>
<text transform="translate(446.31,695.29) scale(1.0703,1)" font-size="14.83" font-weight="normal" fill="#626262" stroke="#626262" stroke-width="0.30" stroke-linejoin="round">-300</text>
<text transform="translate(446.31,755.22) scale(1.0703,1)" font-size="14.83" font-weight="normal" fill="#626262" stroke="#626262" stroke-width="0.30" stroke-linejoin="round">-400</text>
<text transform="translate(560.69,476.48) scale(1.0312,1)" font-size="22.89" font-weight="normal" fill="#626262" stroke="#626262" stroke-width="0.25" stroke-linejoin="round">Membrane Voltage (mV)</text>
<text transform="translate(437.57,724.48) rotate(-90) scale(0.9478,1)" font-size="18.82" fill="#626262" stroke="#626262" stroke-width="0.25" stroke-linejoin="round">Current Density (pA/pF)</text>
<line x1="849.50" y1="501.70" x2="895.90" y2="501.70" stroke="#cacaca" stroke-width="2.6" stroke-linecap="round"/>
<circle cx="872.3" cy="501.7" r="6.3" fill="#cacaca"/>
<text transform="translate(900.55,508.18) scale(0.8707,1)" font-size="19.26" font-weight="normal" fill="#626262" stroke="#626262" stroke-width="0.25" stroke-linejoin="round">LP</text>
<line x1="849.50" y1="542.20" x2="895.90" y2="542.20" stroke="#727272" stroke-width="2.6" stroke-linecap="round"/>
<rect x="866" y="535.7" width="12.6" height="12.9" fill="#727272"/>
<text transform="translate(900.19,548.68) scale(0.9771,1)" font-size="19.26" font-weight="normal" fill="#626262" stroke="#626262" stroke-width="0.25" stroke-linejoin="round">IP</text>
<line x1="849.50" y1="581.20" x2="895.90" y2="581.20" stroke="#343434" stroke-width="2.6" stroke-linecap="round"/>
<path d="M872.3,574.5 L878.6,587.2 L866,587.2 Z" fill="#343434"/>
<text transform="translate(900.48,587.68) scale(0.9169,1)" font-size="19.26" font-weight="normal" fill="#626262" stroke="#626262" stroke-width="0.25" stroke-linejoin="round">HP</text>
</g>
</svg>
</body></html>
